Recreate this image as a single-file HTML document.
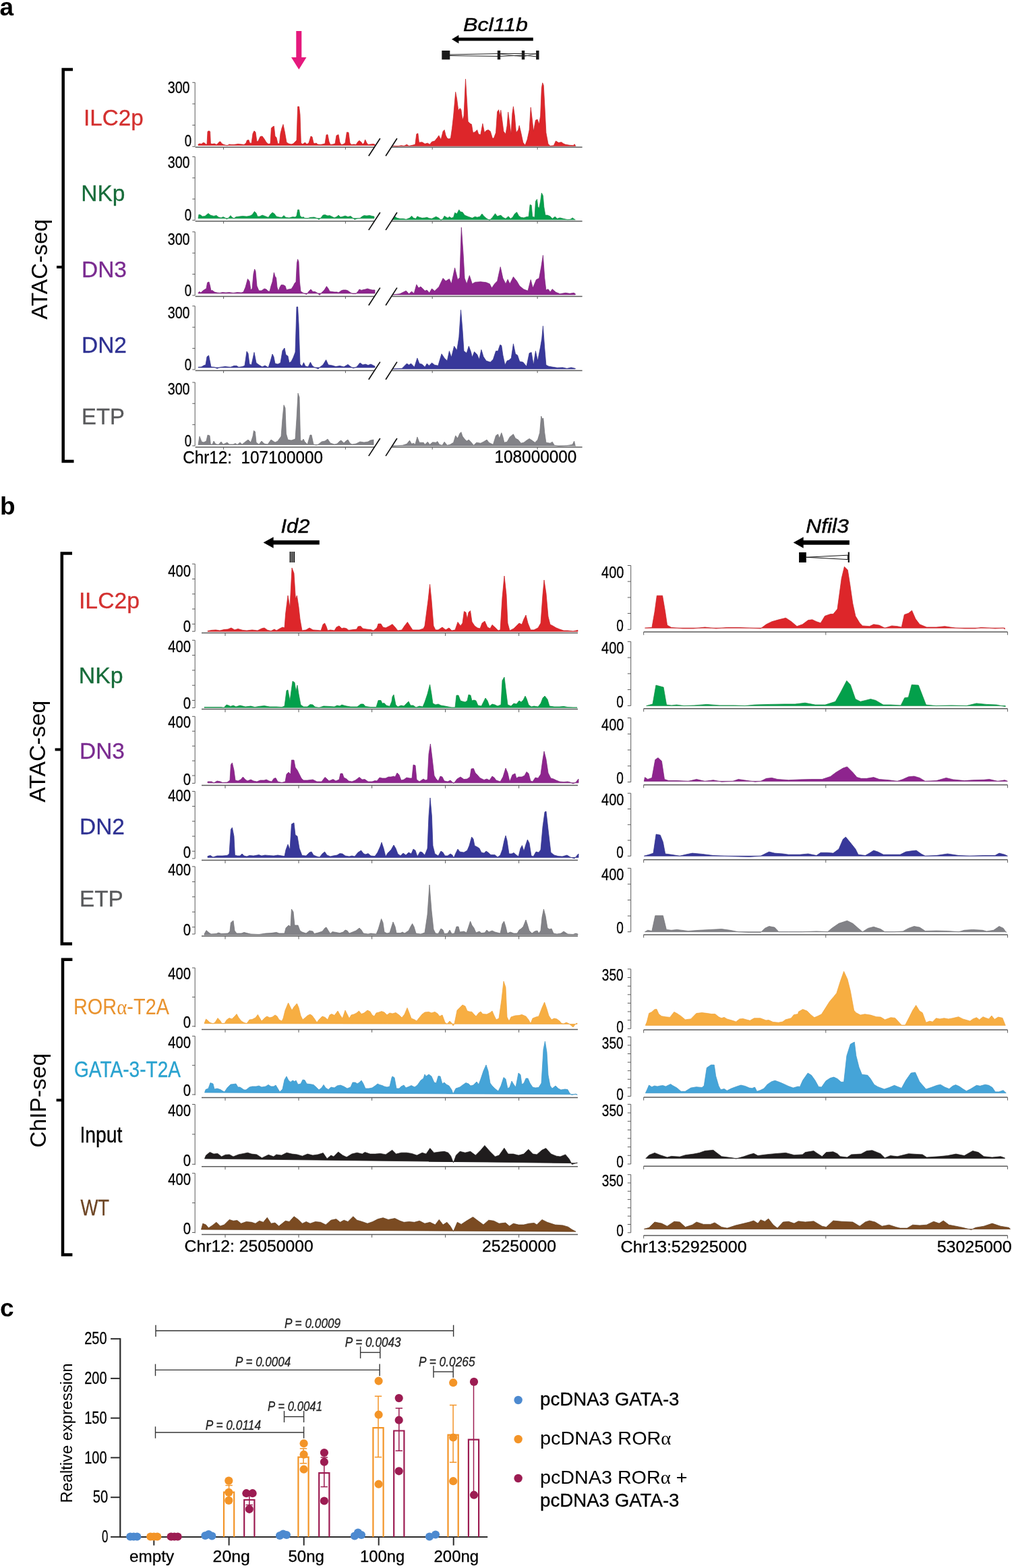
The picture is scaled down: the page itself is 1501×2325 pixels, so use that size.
<!DOCTYPE html>
<html><head><meta charset="utf-8"><title>Figure</title>
<style>html,body{margin:0;padding:0;background:#fff;overflow:hidden;width:1501px;height:2325px;}svg{display:block;}</style>
</head><body>
<svg width="1501" height="2325" viewBox="0 0 1501 2325" font-family="'Liberation Sans', Arial, Helvetica, sans-serif">
<rect width="1501" height="2325" fill="#fff"/>
<text x="-0.5" y="22.6" font-size="37" font-weight="bold">a</text>
<polygon points="439.3,46 447.3,46 447.3,85 454.5,85 443.3,103 432,85 439.3,85" fill="#e5197d"/>
<text x="687" y="45.6" font-size="28.5" font-style="italic" textLength="96" lengthAdjust="spacingAndGlyphs" stroke="#000" stroke-width="0.45">Bcl11b</text>
<line x1="790.8" y1="58.2" x2="679" y2="58.2" stroke="#000" stroke-width="4.8"/>
<polygon points="670,58.2 680.4,52 680.4,64.4" fill="#000"/>
<rect x="655.3" y="75" width="12" height="13.3" fill="#1a1a1a"/>
<rect x="737.8" y="75" width="4.4" height="13.3" fill="#1a1a1a"/>
<rect x="773.8" y="75" width="4.4" height="13.3" fill="#1a1a1a"/>
<rect x="795.1" y="75" width="4.4" height="13.3" fill="#1a1a1a"/>
<polyline points="667,81 740,79.5 776,79.5 797,80" fill="none" stroke="#222" stroke-width="1.2"/>
<polyline points="667,82.5 740,83.5 776,82 797,84" fill="none" stroke="#222" stroke-width="1.2"/>
<polyline points="741,80 776,84 797,79" fill="none" stroke="#333" stroke-width="0.8"/>
<path d="M108,103 H93.7 V684 H109.5" fill="none" stroke="#000" stroke-width="4.5"/>
<line x1="84" y1="396" x2="93" y2="396" stroke="#000" stroke-width="4"/>
<text x="69.8" y="399.4" font-size="32.5" text-anchor="middle" textLength="148.7" lengthAdjust="spacingAndGlyphs" transform="rotate(-90 69.8 399.4)">ATAC-seq</text>
<text x="124" y="186" font-size="32.5" fill="#d3302f" textLength="88.7" lengthAdjust="spacingAndGlyphs" stroke="#d3302f" stroke-width="0.3">ILC2p</text>
<line x1="289.2" y1="122.3" x2="289.2" y2="217.3" stroke="#5a5a5a" stroke-width="1"/>
<line x1="285.3" y1="122.3" x2="289.2" y2="122.3" stroke="#5a5a5a" stroke-width="1"/>
<line x1="285.3" y1="154" x2="289.2" y2="154" stroke="#5a5a5a" stroke-width="1"/>
<line x1="285.3" y1="185.6" x2="289.2" y2="185.6" stroke="#5a5a5a" stroke-width="1"/>
<line x1="285.3" y1="217.3" x2="289.2" y2="217.3" stroke="#5a5a5a" stroke-width="1"/>
<text x="281.6" y="137.9" font-size="24.6" text-anchor="end" textLength="32.9" lengthAdjust="spacingAndGlyphs" stroke="#000" stroke-width="0.3">300</text>
<text x="284.2" y="217.3" font-size="24.6" text-anchor="end" textLength="10.4" lengthAdjust="spacingAndGlyphs" stroke="#000" stroke-width="0.3">0</text>
<path d="M294,215.5 L294,214 L296,213 L299,213.6 L301,211.6 L303.6,212 L305,214 L307,214 L308,195 L310,194 L311.6,195 L312.4,213 L315,213.6 L318,213 L321,214.4 L323,213 L325,210.4 L327,210 L329,213 L332,214.4 L337,216 L340,214 L343,214.4 L347,214.4 L353,213.6 L358,214 L362,214.4 L365,212 L366.4,208 L369,207.6 L370.4,212 L373,212.4 L375,198 L377,194 L379,196 L381,210 L383,209 L386,202.4 L389,202 L392,206 L395,211 L398,213.6 L401,213 L402.4,190 L404.4,188 L406.4,187 L408,202 L410,204 L412,213 L414.4,213 L416,198 L418,190 L420,184.4 L422.4,196 L425,211 L428,213 L432,214 L435,213 L438,210 L440,208 L441.6,158 L443.6,158 L445,170 L446.4,212 L449,214 L451,212 L453,211.6 L455,214 L458,212 L461,202 L463,203 L465,212 L467,213 L469,212 L471,214 L475,214.4 L478,214 L482,213 L484,200 L486,199.6 L488,210 L490,214.4 L494,214 L497,213 L499,201 L502,199.6 L504,211 L506,214.4 L509,214 L512,212 L514.4,196 L517,196.4 L519,212 L521,214.4 L525,214 L528,214.4 L531,210 L533,208.4 L536,211 L538,214 L540,212 L541.6,207 L544,212 L546,214.4 L549,214 L553,213.6 L556,214 L556,215.5 Z" fill="#dd262a" stroke="#c41e24" stroke-width="0.7" stroke-linejoin="round"/>
<path d="M582.7,216.6 L582.7,216.4 L588.9,217 L595.1,215.7 L599.2,216.4 L603.4,214.3 L606.5,216.4 L611.6,215.3 L615.8,214.3 L617.8,198.8 L619.9,197.8 L621.5,211.2 L626.1,210.8 L630.2,213.3 L634.3,212.2 L637.4,214.3 L640.5,210.2 L644.7,209.1 L648.8,204 L650.9,200.9 L654,207.1 L657.1,194.7 L659.1,192.6 L661.2,200.9 L663.3,205 L665.7,206 L668.4,205 L670.5,190.5 L672.6,172 L675.7,136.4 L677.7,147.2 L679.8,163.7 L682.3,160.6 L683.9,162.7 L686,178.2 L688,172 L690.5,117.2 L692.6,151.3 L694.2,180.2 L697.3,183.3 L699.4,184.3 L701.5,196.7 L704.6,195.7 L707.7,192.6 L709.7,198.8 L712.8,199.8 L715.9,183.3 L718.6,196.7 L721.1,193.6 L724.2,192.6 L727.3,194.7 L730.4,205 L732.4,205 L735.5,196.7 L737.6,165.8 L739.7,162.7 L741.3,172 L742.8,163.3 L744.8,178.2 L746.9,194.7 L750,198.8 L752.1,186.4 L753.7,166.2 L755.8,182.3 L757.9,198.8 L759.9,167.8 L761.4,157.9 L763.4,172 L765.5,196.7 L768.6,192.6 L770.2,186 L772.7,196.7 L775.8,211.2 L778.9,215.3 L782,207.1 L785.1,192.6 L787.2,159.2 L789.2,176.1 L791.3,194.7 L794.4,178.2 L797.1,177.1 L799.6,184.3 L801.6,172 L803.3,130.7 L804.7,122.8 L806.2,126.5 L807.8,155.4 L809.9,196.7 L813,213.3 L816.1,216.4 L821.3,215.7 L824.4,209.1 L828.5,211.6 L832.6,210.8 L835.7,212.9 L838.8,214.3 L845,215.3 L850.2,215.7 L852.2,213.7 L853.7,216.4 L853.7,216.6 Z" fill="#dd262a" stroke="#c41e24" stroke-width="0.7" stroke-linejoin="round"/>
<line x1="289.6" y1="218.2" x2="555.6" y2="218.2" stroke="#5a5a5a" stroke-width="1.5"/>
<line x1="581.2" y1="218.2" x2="863.6" y2="218.2" stroke="#5a5a5a" stroke-width="1.5"/>
<line x1="331.6" y1="218.2" x2="331.6" y2="221.7" stroke="#5a5a5a" stroke-width="1"/>
<line x1="512.4" y1="218.2" x2="512.4" y2="221.7" stroke="#5a5a5a" stroke-width="1"/>
<line x1="641.2" y1="218.2" x2="641.2" y2="221.7" stroke="#5a5a5a" stroke-width="1"/>
<line x1="797.1" y1="218.2" x2="797.1" y2="221.7" stroke="#5a5a5a" stroke-width="1"/>
<line x1="546.8" y1="231.3" x2="563.8" y2="205.2" stroke="#111" stroke-width="1.7"/>
<line x1="572.1" y1="231.3" x2="588.9" y2="205.2" stroke="#111" stroke-width="1.7"/>
<text x="120.2" y="297.6" font-size="32.5" fill="#176c3a" textLength="65.2" lengthAdjust="spacingAndGlyphs" stroke="#176c3a" stroke-width="0.3">NKp</text>
<line x1="289.2" y1="232.4" x2="289.2" y2="326.5" stroke="#5a5a5a" stroke-width="1"/>
<line x1="285.3" y1="232.4" x2="289.2" y2="232.4" stroke="#5a5a5a" stroke-width="1"/>
<line x1="285.3" y1="263.8" x2="289.2" y2="263.8" stroke="#5a5a5a" stroke-width="1"/>
<line x1="285.3" y1="295.1" x2="289.2" y2="295.1" stroke="#5a5a5a" stroke-width="1"/>
<line x1="285.3" y1="326.5" x2="289.2" y2="326.5" stroke="#5a5a5a" stroke-width="1"/>
<text x="281.6" y="249.3" font-size="24.6" text-anchor="end" textLength="32.9" lengthAdjust="spacingAndGlyphs" stroke="#000" stroke-width="0.3">300</text>
<text x="284.2" y="326.5" font-size="24.6" text-anchor="end" textLength="10.4" lengthAdjust="spacingAndGlyphs" stroke="#000" stroke-width="0.3">0</text>
<path d="M294,323.8 L294,323.6 L295,318 L298,319 L300,321 L304,320.4 L307,318 L309,316.4 L312,319 L317,320.4 L321,319.4 L324,322 L328,323 L331,321.6 L334,323 L336.4,325 L339,323 L342,319.6 L344,322 L347,324 L350,321.6 L355,321 L360,320.4 L366,321 L371,320 L374,318.4 L377.4,313.6 L380,316 L382,321 L385,321 L389,319 L393,320.4 L398,322.4 L401,318 L404,315 L407,317 L410,321 L414,322 L418,322.4 L421,319.6 L424,322.4 L429,323 L434,321.6 L438,322 L440,320 L441.6,311 L443.6,311 L445,320 L448,322.4 L450,321.6 L452,323.6 L456,324 L460,322.4 L466,322 L470,323.6 L473,325.6 L476,323 L479,319 L482,318.4 L486,320 L489,319.6 L492,321 L496,323 L500,321 L502,319 L505,322 L509,321 L512,320 L516,321.6 L520,320.4 L523,323 L526,325.6 L530,324 L534,323.6 L537,321 L540,319.6 L544,320 L548,319.4 L552,320.4 L555,321 L555,323.8 Z" fill="#03a04b" stroke="#128a43" stroke-width="0.7" stroke-linejoin="round"/>
<path d="M582.7,325.8 L582.7,325.7 L585.8,321.2 L588.9,323.3 L593,324.3 L598.2,324.3 L602.3,325.3 L607.5,323.3 L610.6,320.2 L613.3,323.3 L616.8,324.3 L618.9,320.8 L622,322.2 L626.1,323.3 L630.2,322.9 L633.3,322.2 L636.4,323.7 L640.5,324.3 L646.7,321.2 L650.9,323.3 L654,326.4 L657.1,324.3 L659.1,320.2 L662.2,322.2 L664.3,323.3 L666.4,321.2 L669.5,323.3 L672.6,322.2 L674.6,315.4 L677.7,317.1 L680.8,310.9 L682.9,314 L686,314.6 L689.1,319.1 L694.2,321.2 L700.4,323.3 L704.6,321.2 L707.7,322.2 L711.8,321.2 L714.9,317.1 L718,320.8 L722.1,324.3 L726.3,326.4 L730.4,322.2 L734.5,316.7 L737.6,320.8 L742.8,319.1 L745.9,322.2 L750,324.3 L754.1,320.8 L757.2,324.3 L760.3,322.2 L763.4,317.1 L766.5,314.6 L769.6,320.2 L772.7,322.2 L776.9,322.9 L781,321.6 L784.1,321.2 L786.1,303.6 L788.2,304.3 L789.7,321.2 L793,322.2 L794.4,298.5 L796.5,295.4 L797.9,306.7 L799.6,308.8 L801.6,298.5 L803.3,286.1 L805.4,290.2 L806.8,306.7 L808.9,319.1 L812,319.1 L816.1,320.8 L819.2,324.3 L823.3,321.2 L826.4,324.3 L830.5,322.9 L835.7,324.3 L841.9,325.7 L846,325.3 L849.1,322.9 L852.2,325.3 L853.3,325.7 L853.3,325.8 Z" fill="#03a04b" stroke="#128a43" stroke-width="0.7" stroke-linejoin="round"/>
<line x1="289.6" y1="328" x2="555.6" y2="328" stroke="#5a5a5a" stroke-width="1.5"/>
<line x1="581.2" y1="328" x2="863.6" y2="328" stroke="#5a5a5a" stroke-width="1.5"/>
<line x1="331.6" y1="328" x2="331.6" y2="331.5" stroke="#5a5a5a" stroke-width="1"/>
<line x1="512.4" y1="328" x2="512.4" y2="331.5" stroke="#5a5a5a" stroke-width="1"/>
<line x1="641.2" y1="328" x2="641.2" y2="331.5" stroke="#5a5a5a" stroke-width="1"/>
<line x1="797.1" y1="328" x2="797.1" y2="331.5" stroke="#5a5a5a" stroke-width="1"/>
<line x1="546.8" y1="341.1" x2="563.8" y2="315" stroke="#111" stroke-width="1.7"/>
<line x1="572.1" y1="341.1" x2="588.9" y2="315" stroke="#111" stroke-width="1.7"/>
<text x="121" y="411" font-size="32.5" fill="#7a2b90" textLength="67" lengthAdjust="spacingAndGlyphs" stroke="#7a2b90" stroke-width="0.3">DN3</text>
<line x1="289.2" y1="343.8" x2="289.2" y2="438" stroke="#5a5a5a" stroke-width="1"/>
<line x1="285.3" y1="343.8" x2="289.2" y2="343.8" stroke="#5a5a5a" stroke-width="1"/>
<line x1="285.3" y1="375.2" x2="289.2" y2="375.2" stroke="#5a5a5a" stroke-width="1"/>
<line x1="285.3" y1="406.6" x2="289.2" y2="406.6" stroke="#5a5a5a" stroke-width="1"/>
<line x1="285.3" y1="438" x2="289.2" y2="438" stroke="#5a5a5a" stroke-width="1"/>
<text x="281.6" y="362.6" font-size="24.6" text-anchor="end" textLength="32.9" lengthAdjust="spacingAndGlyphs" stroke="#000" stroke-width="0.3">300</text>
<text x="284.2" y="439" font-size="24.6" text-anchor="end" textLength="10.4" lengthAdjust="spacingAndGlyphs" stroke="#000" stroke-width="0.3">0</text>
<path d="M294,435 L294,434.4 L295.6,432.4 L298,434 L301,431 L304,429 L306,428 L307.6,419 L310,418 L311.6,424 L313,431 L315,430.6 L318,433 L322,434 L326,434.4 L330,433.6 L335,434 L340,433.6 L346,434.4 L352,433.6 L358,434 L361,433 L364,426 L367.4,413.6 L370,417 L372,430 L374,428 L376,406 L377.6,399 L379,402 L381,424 L384,431 L388,431 L392,428 L395,429 L398,432 L400,432 L402,424 L404,418 L406.4,404 L408,410 L409.6,412 L411,426 L413,431.6 L415,426 L417,422.4 L420,422.4 L423,424 L425,430 L428,429 L432,428.4 L435,424 L437,420 L439,418 L440.4,390 L441.6,384.4 L443,388 L444.4,418 L446,432 L449,434 L452,435.6 L455,436.4 L458,432 L461,429 L464,432.4 L467,432.4 L470,434 L472,435.6 L474,437.6 L477,434 L481,430 L484.4,424.6 L487,428 L489,432 L492,432.4 L496,433 L500,433 L502,434 L506,431 L509,430 L513,430 L516,431 L520,434 L523,435.6 L528,435.6 L531,432 L533,429 L536,430.4 L539,429.6 L542,429 L545,428 L548,429 L552,430 L556,430 L556,435 Z" fill="#8e248e" stroke="#741e74" stroke-width="0.7" stroke-linejoin="round"/>
<path d="M582.7,437 L582.7,437 L593,435.7 L602.3,431.2 L606.5,435.7 L610.6,432.2 L614.1,435.3 L617.8,421.9 L620.9,427.1 L624,425 L630.2,431.2 L633.3,430.2 L636.8,434.3 L640.5,428.1 L644.7,431.6 L650.9,425.4 L657.1,412.6 L661.2,416.7 L666.4,413.6 L669.5,420.9 L674.6,397.1 L678.8,414.7 L681.9,411.6 L684.3,337.2 L687,375.4 L689.1,412.6 L692.2,420.9 L696.3,408.5 L700.4,420.9 L704.6,418.4 L712.8,417.8 L721.1,418.8 L726.3,420.9 L729.4,427.1 L733.5,420.9 L737.6,416.7 L742.2,395.7 L745.9,412.6 L750,420.9 L753.1,414.3 L756.2,420.9 L761.4,410.5 L766.5,416.7 L770.7,424 L776.9,429.1 L783,431.2 L787.2,414.7 L790.3,427.1 L795.4,414.7 L799.6,412.6 L802.7,396.1 L805.4,378.5 L807.8,412.6 L809.9,430.2 L813,428.7 L816.1,432.9 L819.2,428.7 L824.4,433.3 L830.5,435.7 L838.8,434.3 L845,435.3 L851.2,434.3 L853.3,435.7 L853.3,437 Z" fill="#8e248e" stroke="#741e74" stroke-width="0.7" stroke-linejoin="round"/>
<line x1="289.6" y1="439.6" x2="555.6" y2="439.6" stroke="#5a5a5a" stroke-width="1.5"/>
<line x1="581.2" y1="439.6" x2="863.6" y2="439.6" stroke="#5a5a5a" stroke-width="1.5"/>
<line x1="331.6" y1="439.6" x2="331.6" y2="443.1" stroke="#5a5a5a" stroke-width="1"/>
<line x1="512.4" y1="439.6" x2="512.4" y2="443.1" stroke="#5a5a5a" stroke-width="1"/>
<line x1="641.2" y1="439.6" x2="641.2" y2="443.1" stroke="#5a5a5a" stroke-width="1"/>
<line x1="797.1" y1="439.6" x2="797.1" y2="443.1" stroke="#5a5a5a" stroke-width="1"/>
<line x1="546.8" y1="452.7" x2="563.8" y2="426.6" stroke="#111" stroke-width="1.7"/>
<line x1="572.1" y1="452.7" x2="588.9" y2="426.6" stroke="#111" stroke-width="1.7"/>
<text x="121" y="523" font-size="32.5" fill="#2e3192" textLength="67" lengthAdjust="spacingAndGlyphs" stroke="#2e3192" stroke-width="0.3">DN2</text>
<line x1="289.2" y1="453.8" x2="289.2" y2="548" stroke="#5a5a5a" stroke-width="1"/>
<line x1="285.3" y1="453.8" x2="289.2" y2="453.8" stroke="#5a5a5a" stroke-width="1"/>
<line x1="285.3" y1="485.2" x2="289.2" y2="485.2" stroke="#5a5a5a" stroke-width="1"/>
<line x1="285.3" y1="516.6" x2="289.2" y2="516.6" stroke="#5a5a5a" stroke-width="1"/>
<line x1="285.3" y1="548" x2="289.2" y2="548" stroke="#5a5a5a" stroke-width="1"/>
<text x="281.6" y="471.6" font-size="24.6" text-anchor="end" textLength="32.9" lengthAdjust="spacingAndGlyphs" stroke="#000" stroke-width="0.3">300</text>
<text x="284.2" y="549" font-size="24.6" text-anchor="end" textLength="10.4" lengthAdjust="spacingAndGlyphs" stroke="#000" stroke-width="0.3">0</text>
<path d="M294,545 L294,544.4 L299,544 L302,542 L305,541 L307,529 L309.6,527 L311,534 L313,544 L318,544.4 L322,546.4 L327,544.4 L334,543.6 L342,544.4 L347,542.4 L351,542.4 L354,544.4 L360,543.6 L363,542 L366,521 L368,524 L370,540 L373,541 L377,522.4 L380,538 L384,541 L389,544 L393,542 L398,545 L401,536 L404,525 L406,529 L408,539 L412,540 L416,538 L419,520 L422,516 L424,526 L427,528 L429,538 L432,536 L435,530 L438,522 L440,455 L441.6,455 L443,480 L445,540 L448,543 L450.4,537.6 L453,543 L457,544 L460.4,537 L463,542 L466,544.4 L472,547 L475,544 L479,541 L483.6,533.6 L487,541 L493,542 L498,543.6 L504,542.4 L510,544 L516,540.4 L520,543.6 L524,546 L529,544 L534,538 L538,541 L542,540 L546,541.6 L550,540 L556,543 L556,545 Z" fill="#38389a" stroke="#2d2d85" stroke-width="0.7" stroke-linejoin="round"/>
<path d="M582.7,547 L582.7,547 L596.1,546.4 L599.2,543.3 L603.4,539.1 L606.5,541.2 L609.6,539.1 L612.7,542.2 L614.7,544.3 L618.9,530.9 L622,539.1 L626.1,540.2 L630.2,544.3 L633.3,539.1 L636.4,542.2 L640.5,538.1 L644.7,541.2 L649.8,542.2 L655,524.7 L659.1,530.9 L663.3,535 L666.4,520.5 L669.5,529.8 L673.6,513.3 L677.7,519.5 L680.8,499.9 L683.5,459.6 L686,489.6 L688,520.5 L692.2,523.6 L695.3,513.3 L698.4,521.6 L700.4,529.8 L703.5,521.6 L707.7,525.7 L710.8,532.9 L713.9,518.5 L717,528.8 L721.1,535 L727.3,537.1 L731.4,532.9 L735.5,520.5 L738.6,520.5 L741.7,511.3 L743.8,512.3 L745.9,526.7 L749,541.2 L752.1,535 L755.2,534 L758.3,530.9 L761.4,509.8 L764.5,524.7 L767.6,526.7 L770.7,536 L775.8,537.1 L781,543.3 L785.1,523.6 L788.2,522.6 L791.3,541.2 L794.4,520.5 L797.5,535 L801.6,514.3 L803.7,502 L805.4,483.4 L807.8,516.4 L809.9,541.2 L814,543.3 L820.2,544.3 L826.4,545.3 L834.7,544.9 L840.9,546.4 L847.1,544.9 L853.3,546.4 L853.3,547 Z" fill="#38389a" stroke="#2d2d85" stroke-width="0.7" stroke-linejoin="round"/>
<line x1="289.6" y1="549.6" x2="555.6" y2="549.6" stroke="#5a5a5a" stroke-width="1.5"/>
<line x1="581.2" y1="549.6" x2="863.6" y2="549.6" stroke="#5a5a5a" stroke-width="1.5"/>
<line x1="331.6" y1="549.6" x2="331.6" y2="553.1" stroke="#5a5a5a" stroke-width="1"/>
<line x1="512.4" y1="549.6" x2="512.4" y2="553.1" stroke="#5a5a5a" stroke-width="1"/>
<line x1="641.2" y1="549.6" x2="641.2" y2="553.1" stroke="#5a5a5a" stroke-width="1"/>
<line x1="797.1" y1="549.6" x2="797.1" y2="553.1" stroke="#5a5a5a" stroke-width="1"/>
<line x1="546.8" y1="562.7" x2="563.8" y2="536.6" stroke="#111" stroke-width="1.7"/>
<line x1="572.1" y1="562.7" x2="588.9" y2="536.6" stroke="#111" stroke-width="1.7"/>
<text x="121" y="629" font-size="32.5" fill="#58595b" textLength="63.8" lengthAdjust="spacingAndGlyphs" stroke="#58595b" stroke-width="0.3">ETP</text>
<line x1="289.2" y1="567" x2="289.2" y2="661" stroke="#5a5a5a" stroke-width="1"/>
<line x1="285.3" y1="567" x2="289.2" y2="567" stroke="#5a5a5a" stroke-width="1"/>
<line x1="285.3" y1="598.3" x2="289.2" y2="598.3" stroke="#5a5a5a" stroke-width="1"/>
<line x1="285.3" y1="629.7" x2="289.2" y2="629.7" stroke="#5a5a5a" stroke-width="1"/>
<line x1="285.3" y1="661" x2="289.2" y2="661" stroke="#5a5a5a" stroke-width="1"/>
<text x="281.6" y="584.6" font-size="24.6" text-anchor="end" textLength="32.9" lengthAdjust="spacingAndGlyphs" stroke="#000" stroke-width="0.3">300</text>
<text x="284.2" y="662" font-size="24.6" text-anchor="end" textLength="10.4" lengthAdjust="spacingAndGlyphs" stroke="#000" stroke-width="0.3">0</text>
<path d="M294,659.4 L294,659.4 L296,647 L299,655 L302,656 L306,654 L308,645 L311,646 L312.4,659 L315,659 L317,654 L320,658.6 L324,659.4 L328,655 L331,659 L337,656 L340,659 L346,659 L349,657.4 L352,659.4 L356,656 L359,659 L364,655 L368,652 L372,656 L375,647 L376.4,638.6 L378.4,640 L380,656 L384,659 L388,654 L392,658 L397,659 L402,652 L405,654 L408,656 L412,654 L414,651 L417,647 L419,621 L421,600.6 L423,605 L424.4,643 L427,652 L432,653 L438,651 L440,621 L442,583 L444,589 L445.6,653 L448,654 L450,651 L452,655 L456,659 L460,645 L462,645 L465,659 L469,660 L472,659 L477,655 L482,654 L486,651 L490,657 L496,659 L500,658 L504,654 L506,653 L510,657 L513,654 L516,652 L519,657 L522,659 L528,658 L534,655 L540,656 L546,655 L549,653 L554,652 L554,659.4 Z" fill="#828287" stroke="#6e6e73" stroke-width="0.7" stroke-linejoin="round"/>
<path d="M582.7,661 L582.7,661.4 L597.2,660.3 L603.4,658.3 L607.5,653.1 L610.6,658.3 L613.7,657.2 L615.8,659.3 L618.9,647.9 L622,656.2 L628.2,656.2 L630.2,659.3 L634.3,655.2 L637.4,659.3 L641.6,655.8 L646.7,656.2 L648.8,654.5 L651.9,659.3 L656,660.3 L659.1,655.2 L663.3,660.3 L667.4,659.3 L672.6,656.2 L675.7,645.9 L678.8,650 L681.9,642.8 L683.9,640.7 L686,646.9 L689.1,651 L692.2,654.1 L695.3,652.1 L698.4,655.2 L702.5,660.3 L706.6,656.2 L712.8,657.2 L717,655.2 L722.1,652.1 L725.2,656.2 L731.4,659.3 L735.5,645.9 L738.6,643.8 L740.7,650 L743.8,641.7 L745.9,647.9 L747.9,656.2 L752.1,655.2 L756.2,647.9 L761.4,643.8 L764.5,650 L768.6,652.1 L772.7,657.2 L776.9,656.2 L781,653.1 L785.1,650.4 L789.2,653.1 L793.4,656.2 L797.5,652.1 L800.6,641.7 L802.7,617 L804.1,621.1 L805.8,620.1 L807.8,641.7 L809.9,656.2 L816.1,657.2 L819.2,655.2 L822.3,660.3 L828.5,661.4 L840.9,660.7 L849.1,659.3 L851.6,654.1 L853.3,661.4 L853.3,661 Z" fill="#828287" stroke="#6e6e73" stroke-width="0.7" stroke-linejoin="round"/>
<line x1="289.6" y1="663" x2="555.6" y2="663" stroke="#5a5a5a" stroke-width="1.5"/>
<line x1="581.2" y1="663" x2="863.6" y2="663" stroke="#5a5a5a" stroke-width="1.5"/>
<line x1="331.6" y1="663" x2="331.6" y2="666.5" stroke="#5a5a5a" stroke-width="1"/>
<line x1="512.4" y1="663" x2="512.4" y2="666.5" stroke="#5a5a5a" stroke-width="1"/>
<line x1="641.2" y1="663" x2="641.2" y2="666.5" stroke="#5a5a5a" stroke-width="1"/>
<line x1="797.1" y1="663" x2="797.1" y2="666.5" stroke="#5a5a5a" stroke-width="1"/>
<line x1="546.8" y1="676.1" x2="563.8" y2="650" stroke="#111" stroke-width="1.7"/>
<line x1="572.1" y1="676.1" x2="588.9" y2="650" stroke="#111" stroke-width="1.7"/>
<text x="271.2" y="686.9" font-size="25" textLength="207.9" lengthAdjust="spacingAndGlyphs" stroke="#000" stroke-width="0.3">Chr12:&#160; 107100000</text>
<text x="733.5" y="686.1" font-size="25" textLength="121.8" lengthAdjust="spacingAndGlyphs" stroke="#000" stroke-width="0.3">108000000</text>
<text x="0" y="762.6" font-size="37" font-weight="bold">b</text>
<text x="416.5" y="789.7" font-size="28.6" font-style="italic" textLength="43" lengthAdjust="spacingAndGlyphs" stroke="#000" stroke-width="0.45">Id2</text>
<line x1="473.8" y1="804.4" x2="404" y2="804.4" stroke="#000" stroke-width="6.4"/>
<polygon points="390.6,804.4 405.6,796.2 405.6,812.7" fill="#000"/>
<rect x="429.6" y="818" width="1.9" height="16" fill="#111"/>
<rect x="432.4" y="818" width="1.9" height="16" fill="#111"/>
<rect x="435.2" y="818" width="1.9" height="16" fill="#111"/>
<text x="1195.3" y="789.7" font-size="28.6" font-style="italic" textLength="63.5" lengthAdjust="spacingAndGlyphs" stroke="#000" stroke-width="0.45">Nfil3</text>
<line x1="1259.9" y1="804.5" x2="1190" y2="804.5" stroke="#000" stroke-width="6.3"/>
<polygon points="1176.7,804.5 1191.7,796.3 1191.7,812.7" fill="#000"/>
<rect x="1185.1" y="819" width="10.7" height="15" fill="#000"/>
<polyline points="1195.8,826.3 1257.5,823.2 1257.5,829.6 1195.8,826.3" fill="none" stroke="#111" stroke-width="1"/>
<line x1="1258.8" y1="818.6" x2="1258.8" y2="834" stroke="#111" stroke-width="2.2"/>
<path d="M107,820.5 H91.8 V1399.5 H107" fill="none" stroke="#000" stroke-width="4.5"/>
<line x1="81.6" y1="1111.4" x2="91" y2="1111.4" stroke="#000" stroke-width="4"/>
<text x="67.5" y="1114.2" font-size="32.5" text-anchor="middle" textLength="151" lengthAdjust="spacingAndGlyphs" transform="rotate(-90 67.5 1114.2)">ATAC-seq</text>
<path d="M107.4,1422.8 H93 V1860.5 H107.4" fill="none" stroke="#000" stroke-width="4.5"/>
<line x1="83.6" y1="1631.3" x2="92" y2="1631.3" stroke="#000" stroke-width="4"/>
<text x="68.5" y="1631.8" font-size="32.5" text-anchor="middle" textLength="139.8" lengthAdjust="spacingAndGlyphs" transform="rotate(-90 68.5 1631.8)">ChIP-seq</text>
<text x="117" y="901.7" font-size="32.5" fill="#d3302f" textLength="90" lengthAdjust="spacingAndGlyphs" stroke="#d3302f" stroke-width="0.3">ILC2p</text>
<line x1="289.2" y1="836.2" x2="289.2" y2="936.2" stroke="#5a5a5a" stroke-width="1"/>
<line x1="285" y1="836.2" x2="289.2" y2="836.2" stroke="#5a5a5a" stroke-width="1"/>
<line x1="285" y1="858.5" x2="289.2" y2="858.5" stroke="#5a5a5a" stroke-width="1"/>
<line x1="285" y1="880.8" x2="289.2" y2="880.8" stroke="#5a5a5a" stroke-width="1"/>
<line x1="285" y1="903" x2="289.2" y2="903" stroke="#5a5a5a" stroke-width="1"/>
<line x1="285" y1="925.3" x2="289.2" y2="925.3" stroke="#5a5a5a" stroke-width="1"/>
<line x1="285" y1="936.2" x2="289.2" y2="936.2" stroke="#5a5a5a" stroke-width="1"/>
<text x="283" y="854.5" font-size="24.8" text-anchor="end" textLength="33.8" lengthAdjust="spacingAndGlyphs" stroke="#000" stroke-width="0.3">400</text>
<text x="283" y="936.7" font-size="24.8" text-anchor="end" textLength="11.3" lengthAdjust="spacingAndGlyphs" stroke="#000" stroke-width="0.3">0</text>
<path d="M308,936.3 L308,935.6 L314,934.4 L320,934 L326,935 L332,933.6 L338,933 L343,931 L348,934 L353,932.4 L360,934.4 L366,935 L374,934 L382,935 L388,932 L392,931 L397,934.4 L402,935.6 L407,933 L410,935 L415,932 L419,930 L422,931 L423.6,910 L427,883 L430,901 L433,842 L436,850 L438.4,888 L440.4,883 L443,900 L445,918 L448,935 L454,934 L459,931 L464,934 L470,934.4 L476,935 L479,926 L481.6,924 L484,929 L486,935 L490,934 L496,935 L499,930 L503,928 L507,932 L510,931 L514,932 L517,934.4 L524,933.6 L529,933 L531,929 L535,928.4 L538,932 L544,933 L550,933.6 L554,935 L559,931 L561,925 L565,925 L568,930 L572,931 L578,928 L582,925.6 L586,930 L590,935 L596,934 L600,928 L604.4,922.4 L608,928 L612,934 L622,934 L628,932 L630,928 L635,890 L637.6,866.4 L640,890 L643,928 L646,934 L650,934 L656,930 L661,934 L666,931 L670,935 L675,934 L679,922.4 L683,928 L686,924 L688.4,906.6 L691,908 L693,918 L695,908 L697.6,905.6 L700,922 L704,928 L708,931 L712,932 L715,924 L719,921 L723,930 L727,932 L730,926.4 L734,930 L739,935 L742,934 L745,886 L748,854 L751,882 L753,924 L756,935 L762,932 L770,924 L774,926 L777,918 L780,912 L783,924 L787,934 L792,934 L798,931 L802,924 L805,882 L807,860 L810,880 L813,914 L816,926 L820,928 L825,931 L830,933 L836,935 L842,935 L850,936 L857,934.4 L857,936.3 Z" fill="#dd262a" stroke="#c41e24" stroke-width="0.7" stroke-linejoin="round"/>
<line x1="299" y1="938.4" x2="857" y2="938.4" stroke="#5a5a5a" stroke-width="1.5"/>
<line x1="334" y1="938.4" x2="334" y2="942.9" stroke="#5a5a5a" stroke-width="1"/>
<line x1="443" y1="938.4" x2="443" y2="942.9" stroke="#5a5a5a" stroke-width="1"/>
<line x1="551.6" y1="938.4" x2="551.6" y2="942.9" stroke="#5a5a5a" stroke-width="1"/>
<line x1="660.6" y1="938.4" x2="660.6" y2="942.9" stroke="#5a5a5a" stroke-width="1"/>
<line x1="769.6" y1="938.4" x2="769.6" y2="942.9" stroke="#5a5a5a" stroke-width="1"/>
<text x="116.8" y="1013.3" font-size="32.5" fill="#176c3a" textLength="65.9" lengthAdjust="spacingAndGlyphs" stroke="#176c3a" stroke-width="0.3">NKp</text>
<line x1="289.2" y1="949.3" x2="289.2" y2="1049.5" stroke="#5a5a5a" stroke-width="1"/>
<line x1="285" y1="949.3" x2="289.2" y2="949.3" stroke="#5a5a5a" stroke-width="1"/>
<line x1="285" y1="971.6" x2="289.2" y2="971.6" stroke="#5a5a5a" stroke-width="1"/>
<line x1="285" y1="993.9" x2="289.2" y2="993.9" stroke="#5a5a5a" stroke-width="1"/>
<line x1="285" y1="1016.2" x2="289.2" y2="1016.2" stroke="#5a5a5a" stroke-width="1"/>
<line x1="285" y1="1038.5" x2="289.2" y2="1038.5" stroke="#5a5a5a" stroke-width="1"/>
<line x1="285" y1="1049.5" x2="289.2" y2="1049.5" stroke="#5a5a5a" stroke-width="1"/>
<text x="283" y="966.8" font-size="24.8" text-anchor="end" textLength="33.8" lengthAdjust="spacingAndGlyphs" stroke="#000" stroke-width="0.3">400</text>
<text x="283" y="1050.5" font-size="24.8" text-anchor="end" textLength="11.3" lengthAdjust="spacingAndGlyphs" stroke="#000" stroke-width="0.3">0</text>
<path d="M303,1049.3 L303,1048.6 L328,1048.6 L332,1049.4 L336,1045 L339,1046 L342,1047.4 L346,1046 L350,1048 L356,1046 L364,1048 L372,1047 L378,1048.6 L384,1047.4 L392,1046.6 L400,1048 L410,1048 L418,1048.6 L422,1047 L425,1024 L427,1023 L430,1039 L434,1010 L437,1012 L439,1025 L441,1016 L443,1029 L446,1045 L450,1048 L456,1048 L460,1044.6 L464,1045 L467,1048 L473,1049.4 L480,1047 L488,1047.4 L496,1048 L500,1046 L504,1047 L507,1045 L510,1046 L514,1047 L520,1048 L530,1048 L535,1044 L539,1044 L542,1047.4 L550,1048.6 L558,1048.6 L561,1038.6 L565,1038.6 L567,1043 L570,1042.6 L573,1046 L578,1047.4 L581,1040 L582,1033 L584,1030 L587,1045 L590,1048 L595,1046 L599,1047 L603,1043 L606,1040 L609,1046 L613,1046 L617,1049 L622,1047 L627,1048 L630,1041 L634,1029 L637.6,1015 L640,1029 L642,1043 L646,1045 L650,1044 L654,1046 L660,1047 L670,1049 L675,1049 L677,1031 L680,1031 L683,1039 L686,1040 L690,1041 L693,1039 L695,1030 L698,1031 L700,1039 L703,1038 L706,1039 L709,1046 L714,1047 L718,1039 L720,1035 L723,1039 L726,1047 L730,1044 L734,1045 L738,1047 L743,1045 L745,1009 L748,1004 L750,1021 L753,1045 L758,1047 L762,1043 L766,1044 L770,1039 L773,1041 L776,1038 L779,1032 L781,1036 L784,1045 L788,1048 L792,1047 L798,1048 L802,1043 L805,1035 L808,1032 L812,1037 L815,1047 L822,1048 L830,1048 L836,1047.4 L842,1048.6 L850,1049 L856,1049 L856,1049.3 Z" fill="#03a04b" stroke="#128a43" stroke-width="0.7" stroke-linejoin="round"/>
<line x1="299" y1="1051.6" x2="857" y2="1051.6" stroke="#5a5a5a" stroke-width="1.5"/>
<line x1="334" y1="1051.6" x2="334" y2="1056.1" stroke="#5a5a5a" stroke-width="1"/>
<line x1="443" y1="1051.6" x2="443" y2="1056.1" stroke="#5a5a5a" stroke-width="1"/>
<line x1="551.6" y1="1051.6" x2="551.6" y2="1056.1" stroke="#5a5a5a" stroke-width="1"/>
<line x1="660.6" y1="1051.6" x2="660.6" y2="1056.1" stroke="#5a5a5a" stroke-width="1"/>
<line x1="769.6" y1="1051.6" x2="769.6" y2="1056.1" stroke="#5a5a5a" stroke-width="1"/>
<text x="118" y="1124.8" font-size="32.5" fill="#7a2b90" textLength="66.9" lengthAdjust="spacingAndGlyphs" stroke="#7a2b90" stroke-width="0.3">DN3</text>
<line x1="289.2" y1="1062.3" x2="289.2" y2="1161.4" stroke="#5a5a5a" stroke-width="1"/>
<line x1="285" y1="1062.3" x2="289.2" y2="1062.3" stroke="#5a5a5a" stroke-width="1"/>
<line x1="285" y1="1084.2" x2="289.2" y2="1084.2" stroke="#5a5a5a" stroke-width="1"/>
<line x1="285" y1="1106.2" x2="289.2" y2="1106.2" stroke="#5a5a5a" stroke-width="1"/>
<line x1="285" y1="1128.1" x2="289.2" y2="1128.1" stroke="#5a5a5a" stroke-width="1"/>
<line x1="285" y1="1150" x2="289.2" y2="1150" stroke="#5a5a5a" stroke-width="1"/>
<line x1="285" y1="1161.4" x2="289.2" y2="1161.4" stroke="#5a5a5a" stroke-width="1"/>
<text x="283" y="1079" font-size="24.8" text-anchor="end" textLength="33.8" lengthAdjust="spacingAndGlyphs" stroke="#000" stroke-width="0.3">400</text>
<text x="283" y="1163.5" font-size="24.8" text-anchor="end" textLength="11.3" lengthAdjust="spacingAndGlyphs" stroke="#000" stroke-width="0.3">0</text>
<path d="M308,1160.8 L308,1159 L314,1159 L317,1161 L322,1158 L327,1159 L330,1160.4 L337,1160 L341,1157 L342.4,1134 L344.4,1131 L347,1142 L349,1157 L353,1158 L357,1156 L360.4,1152 L364,1156 L367,1158 L372,1156 L376,1158 L381,1159 L386,1157 L392,1157 L395,1156 L399,1158 L403,1159 L406,1154.4 L409,1153.6 L412,1159 L418,1160.4 L423,1159 L425,1148 L428,1145 L431,1148 L432.4,1127 L436,1127 L438,1138 L441,1142 L444,1148 L447,1154 L450,1157 L456,1157 L464,1156 L470,1159 L477,1159 L482,1152.4 L485,1155 L488,1158 L494,1155.6 L498,1158 L503,1156 L505,1147 L508,1147 L510,1153 L514,1155 L517,1158 L522,1159 L527,1157 L533,1152.4 L537,1156 L541,1155.6 L546,1159 L552,1159 L556,1157.6 L559,1158 L563,1153 L567,1154 L572,1154 L576,1152 L580,1152 L584,1151 L586,1152 L589,1146 L592,1149 L595,1157 L599,1156 L603,1153 L608,1154 L611,1154 L613,1134 L616,1135 L618,1156 L622,1159 L628,1155 L631,1157 L634,1156 L636,1118 L638.4,1103 L641,1124 L644,1150 L647,1155 L650,1158 L653,1151 L656,1152 L659,1158 L664,1159 L668,1157 L673,1161.6 L678,1155 L683,1152 L688,1155.6 L693,1155 L697,1152 L699,1140 L702.4,1139.6 L705,1146 L708,1149 L712,1153.6 L718,1156.4 L722,1155 L726,1157 L730,1151 L733,1153 L736,1157 L742,1159 L746,1152 L750,1139 L753,1146 L756,1159 L760,1149 L764,1147 L766,1154 L769,1152 L774,1152 L778,1150 L781,1144.4 L784,1147 L787,1158 L790,1159 L794,1153 L798,1154 L802,1148 L805,1126 L807,1114 L810,1126 L813,1146 L817,1154 L821,1155 L825,1157 L830,1159 L836,1159.6 L842,1159 L846,1160 L850,1162 L854,1160 L858,1155 L858,1160.8 Z" fill="#8e248e" stroke="#741e74" stroke-width="0.7" stroke-linejoin="round"/>
<line x1="299" y1="1164.4" x2="857" y2="1164.4" stroke="#5a5a5a" stroke-width="1.5"/>
<line x1="334" y1="1164.4" x2="334" y2="1168.9" stroke="#5a5a5a" stroke-width="1"/>
<line x1="443" y1="1164.4" x2="443" y2="1168.9" stroke="#5a5a5a" stroke-width="1"/>
<line x1="551.6" y1="1164.4" x2="551.6" y2="1168.9" stroke="#5a5a5a" stroke-width="1"/>
<line x1="660.6" y1="1164.4" x2="660.6" y2="1168.9" stroke="#5a5a5a" stroke-width="1"/>
<line x1="769.6" y1="1164.4" x2="769.6" y2="1168.9" stroke="#5a5a5a" stroke-width="1"/>
<text x="118" y="1237.4" font-size="32.5" fill="#2e3192" textLength="66.9" lengthAdjust="spacingAndGlyphs" stroke="#2e3192" stroke-width="0.3">DN2</text>
<line x1="289.2" y1="1173.4" x2="289.2" y2="1273" stroke="#5a5a5a" stroke-width="1"/>
<line x1="285" y1="1173.4" x2="289.2" y2="1173.4" stroke="#5a5a5a" stroke-width="1"/>
<line x1="285" y1="1195.6" x2="289.2" y2="1195.6" stroke="#5a5a5a" stroke-width="1"/>
<line x1="285" y1="1217.8" x2="289.2" y2="1217.8" stroke="#5a5a5a" stroke-width="1"/>
<line x1="285" y1="1240" x2="289.2" y2="1240" stroke="#5a5a5a" stroke-width="1"/>
<line x1="285" y1="1262.2" x2="289.2" y2="1262.2" stroke="#5a5a5a" stroke-width="1"/>
<line x1="285" y1="1273" x2="289.2" y2="1273" stroke="#5a5a5a" stroke-width="1"/>
<text x="283" y="1187.9" font-size="24.8" text-anchor="end" textLength="33.8" lengthAdjust="spacingAndGlyphs" stroke="#000" stroke-width="0.3">400</text>
<text x="283" y="1272.4" font-size="24.8" text-anchor="end" textLength="11.3" lengthAdjust="spacingAndGlyphs" stroke="#000" stroke-width="0.3">0</text>
<path d="M308,1271.5 L308,1269.6 L312,1268.4 L316,1271 L322,1269 L330,1269 L337,1268.4 L340,1266 L342.4,1230 L344.4,1227 L347,1240 L348.4,1268 L352,1269 L356,1269 L359,1266 L362,1269 L366,1270 L370,1268.4 L376,1269 L384,1267.6 L388,1269 L393,1268 L398,1268.4 L406,1269 L412,1268 L418,1269 L422,1269.6 L424,1260 L427,1252 L430,1260 L432.4,1222 L436,1220 L438,1238 L441,1240 L444,1258 L448,1268.4 L454,1269 L459,1264 L462,1263 L465,1268 L470,1270 L474,1271 L478,1266 L481.6,1263 L485,1268 L490,1270 L494,1269 L500,1268 L504,1265.6 L508,1266 L512,1269 L518,1270 L522,1269 L526,1270 L531,1264 L535.6,1261 L539,1265.6 L542,1267 L546,1265.6 L550,1269 L556,1269.6 L560,1264 L564,1255 L566,1249 L569,1258 L572,1270 L575,1265 L580,1260 L584,1253 L587,1258 L590,1266 L594,1269 L598,1265 L602,1268 L606,1264 L610,1266 L613,1259 L616,1261 L619,1270 L623,1263 L626,1263.6 L630,1268 L634,1258 L636,1210 L638,1183 L640.4,1210 L642,1254 L645,1266 L650,1269 L654,1262 L657,1264 L660,1269 L664,1269 L668,1266 L671,1268 L673,1272 L676,1265 L679,1259 L682,1263 L688,1264 L693,1261 L696,1254 L699.6,1241 L702,1244 L704,1254 L708,1256 L711,1258 L714,1264 L718,1265 L721,1262 L724,1264 L728,1267.6 L734,1267.6 L738,1271 L742,1268 L745,1260 L748,1246 L750,1239 L752,1246 L755,1266 L759,1266 L762,1264.4 L766,1268 L769,1270 L772,1258 L774.4,1253.6 L777,1262 L780,1252 L782.4,1245 L785,1250 L788,1269 L791,1270 L795,1263 L799,1264 L802,1260 L805,1226 L808,1204 L810,1203 L813,1230 L817,1264 L822,1268 L828,1269.6 L834,1270 L841,1268 L846,1271 L852,1273 L858,1266 L858,1271.5 Z" fill="#38389a" stroke="#2d2d85" stroke-width="0.7" stroke-linejoin="round"/>
<line x1="299" y1="1275.6" x2="857" y2="1275.6" stroke="#5a5a5a" stroke-width="1.5"/>
<line x1="334" y1="1275.6" x2="334" y2="1280.1" stroke="#5a5a5a" stroke-width="1"/>
<line x1="443" y1="1275.6" x2="443" y2="1280.1" stroke="#5a5a5a" stroke-width="1"/>
<line x1="551.6" y1="1275.6" x2="551.6" y2="1280.1" stroke="#5a5a5a" stroke-width="1"/>
<line x1="660.6" y1="1275.6" x2="660.6" y2="1280.1" stroke="#5a5a5a" stroke-width="1"/>
<line x1="769.6" y1="1275.6" x2="769.6" y2="1280.1" stroke="#5a5a5a" stroke-width="1"/>
<text x="118" y="1343.8" font-size="32.5" fill="#58595b" textLength="64.7" lengthAdjust="spacingAndGlyphs" stroke="#58595b" stroke-width="0.3">ETP</text>
<line x1="289.2" y1="1284.9" x2="289.2" y2="1385" stroke="#5a5a5a" stroke-width="1"/>
<line x1="285" y1="1284.9" x2="289.2" y2="1284.9" stroke="#5a5a5a" stroke-width="1"/>
<line x1="285" y1="1307.4" x2="289.2" y2="1307.4" stroke="#5a5a5a" stroke-width="1"/>
<line x1="285" y1="1329.8" x2="289.2" y2="1329.8" stroke="#5a5a5a" stroke-width="1"/>
<line x1="285" y1="1352.2" x2="289.2" y2="1352.2" stroke="#5a5a5a" stroke-width="1"/>
<line x1="285" y1="1374.7" x2="289.2" y2="1374.7" stroke="#5a5a5a" stroke-width="1"/>
<line x1="285" y1="1385" x2="289.2" y2="1385" stroke="#5a5a5a" stroke-width="1"/>
<text x="283" y="1297.9" font-size="24.8" text-anchor="end" textLength="33.8" lengthAdjust="spacingAndGlyphs" stroke="#000" stroke-width="0.3">400</text>
<text x="283" y="1386.6" font-size="24.8" text-anchor="end" textLength="11.3" lengthAdjust="spacingAndGlyphs" stroke="#000" stroke-width="0.3">0</text>
<path d="M303,1386.2 L303,1385 L306,1379.6 L310,1383 L313,1385 L321,1384.4 L324,1383 L328,1384.4 L338,1384 L341,1381 L342.4,1368 L346,1365 L348,1380 L351,1384 L358,1384 L362,1382.4 L366,1383.6 L372,1385 L384,1385.6 L394,1384 L402,1383.6 L410,1382.4 L414,1384 L422,1384 L424,1376 L428,1372 L431,1374 L432.4,1348 L435,1352 L437,1372 L442,1372 L445,1380 L448,1382 L454,1384 L459,1380 L464,1381 L466,1384.4 L472,1383 L478,1381 L482,1376 L484,1375 L487,1380 L490,1384.4 L493,1381.6 L498,1382.4 L504,1383.6 L509,1382 L512,1379 L515,1380 L518,1384 L523,1382 L528,1380 L533,1376 L536,1379 L539,1384 L546,1385 L550,1384 L558,1385 L561,1378 L565.6,1362.4 L568,1368 L570,1382 L574,1384 L578,1383 L583,1367 L586,1374 L588,1383.6 L594,1383.6 L597,1382 L600,1384 L606,1380 L609,1374 L611.6,1369.6 L614,1374 L617,1384 L624,1385 L630,1383 L634,1356 L637,1312 L640,1350 L643,1378 L646,1384 L650,1384.4 L654,1377 L657,1379 L659,1384.4 L664,1384 L667,1379 L670,1384.4 L674,1384 L677,1374 L680,1374 L682,1382 L688,1381 L692,1383 L695,1374 L697.6,1366 L700,1372 L703,1376 L706,1383 L711,1381 L714,1383.6 L719,1383 L722,1379 L725,1382 L730,1380 L734,1382 L742,1384 L745,1370 L747.6,1366 L750,1374 L752.4,1384 L757,1382 L762,1384 L767,1384 L770,1379 L773,1377 L776,1374 L780,1364 L782,1370 L785,1380 L789,1384 L793,1381 L797,1380 L799,1384 L802,1380 L804,1360 L806.4,1348 L809,1358 L812,1376 L815,1378 L818,1377 L821,1384 L826,1385 L832,1384 L836,1381 L839,1383 L842,1385 L850,1385.6 L854,1384 L857,1385 L857,1386.2 Z" fill="#828287" stroke="#6e6e73" stroke-width="0.7" stroke-linejoin="round"/>
<line x1="299" y1="1388" x2="857" y2="1388" stroke="#5a5a5a" stroke-width="1.5"/>
<line x1="334" y1="1388" x2="334" y2="1392.5" stroke="#5a5a5a" stroke-width="1"/>
<line x1="443" y1="1388" x2="443" y2="1392.5" stroke="#5a5a5a" stroke-width="1"/>
<line x1="551.6" y1="1388" x2="551.6" y2="1392.5" stroke="#5a5a5a" stroke-width="1"/>
<line x1="660.6" y1="1388" x2="660.6" y2="1392.5" stroke="#5a5a5a" stroke-width="1"/>
<line x1="769.6" y1="1388" x2="769.6" y2="1392.5" stroke="#5a5a5a" stroke-width="1"/>
<text x="109" y="1504.3" font-size="32.5" fill="#e9932f" textLength="142" lengthAdjust="spacingAndGlyphs">ROR<tspan font-family="'Liberation Serif', serif">&#945;</tspan>-T2A</text>
<line x1="289.2" y1="1435.1" x2="289.2" y2="1523" stroke="#5a5a5a" stroke-width="1"/>
<line x1="285" y1="1435.1" x2="289.2" y2="1435.1" stroke="#5a5a5a" stroke-width="1"/>
<line x1="285" y1="1478.4" x2="289.2" y2="1478.4" stroke="#5a5a5a" stroke-width="1"/>
<line x1="285" y1="1521.8" x2="289.2" y2="1521.8" stroke="#5a5a5a" stroke-width="1"/>
<text x="283" y="1452.4" font-size="24.8" text-anchor="end" textLength="33.8" lengthAdjust="spacingAndGlyphs" stroke="#000" stroke-width="0.3">400</text>
<text x="283" y="1524.2" font-size="24.8" text-anchor="end" textLength="11.3" lengthAdjust="spacingAndGlyphs" stroke="#000" stroke-width="0.3">0</text>
<path d="M303,1517.6 L303,1517.6 L305.6,1511 L309,1514 L311,1516 L316,1518 L319,1516 L323,1509.6 L327,1514 L329,1517.6 L333,1517.6 L336,1512.4 L340,1509.6 L344,1511 L348,1507 L351,1503.6 L354,1509 L358,1514 L362,1516.4 L366,1517.6 L370,1512 L374,1511.6 L379,1509 L382.4,1504.4 L385,1509 L388,1514 L393,1509 L396,1507 L400,1509 L404,1508 L408,1505 L411,1507 L414,1512 L418,1514 L420,1510 L423,1498 L427.6,1487 L430,1492 L433,1498 L436,1493 L440.4,1488 L443,1494 L446,1506 L449,1512 L452,1509.6 L456,1506 L460,1504 L463,1506 L466,1510 L470,1516 L473,1512 L478,1507 L482,1508.4 L486,1512 L489,1505 L492,1503.6 L496,1505.6 L501,1499 L505,1506 L508,1510 L512,1498 L515,1504 L518,1510 L521,1505 L525,1504 L529,1502 L532.4,1499 L536,1503.6 L540,1502 L545,1498 L549,1500 L552,1505 L555,1507 L558,1502 L562,1501 L566,1499.6 L570,1501 L574,1505 L578,1502 L582,1503 L587,1501.6 L592,1505 L596,1509 L600,1504 L604,1494.4 L607,1502 L610,1510 L615,1512 L618,1514 L621,1510 L626,1504 L630,1501 L636,1500.4 L640,1502 L645,1500.4 L649,1503 L652,1507 L656,1505 L660,1516 L663,1518.4 L667,1514 L670,1517 L672,1521 L674,1518 L678,1498 L682,1494 L686,1490 L690,1492 L693,1499 L696,1500 L700,1500.4 L703,1504 L706,1507 L710,1502 L713,1500 L716,1503.6 L722,1504 L727,1501.6 L730,1499 L733,1506 L736,1512 L740,1510 L744,1482 L747,1455 L750,1464 L752,1508 L755,1514 L758,1508 L764,1506 L770,1505.6 L774,1504.4 L780,1507 L784,1512 L787,1517.6 L790,1510 L795,1508 L799,1507 L804,1494 L807.6,1486 L811,1496 L814,1506 L818,1512 L822,1510 L826,1511 L830,1514 L833,1517.6 L836,1518 L840,1516 L844,1518 L850,1523 L854,1518 L856,1517 L856,1518.5 Z" fill="#f7ae42" stroke="#eca03a" stroke-width="0.7" stroke-linejoin="round"/>
<line x1="299" y1="1526.4" x2="857" y2="1526.4" stroke="#5a5a5a" stroke-width="1.5"/>
<line x1="334" y1="1526.4" x2="334" y2="1530.9" stroke="#5a5a5a" stroke-width="1"/>
<line x1="443" y1="1526.4" x2="443" y2="1530.9" stroke="#5a5a5a" stroke-width="1"/>
<line x1="551.6" y1="1526.4" x2="551.6" y2="1530.9" stroke="#5a5a5a" stroke-width="1"/>
<line x1="660.6" y1="1526.4" x2="660.6" y2="1530.9" stroke="#5a5a5a" stroke-width="1"/>
<line x1="769.6" y1="1526.4" x2="769.6" y2="1530.9" stroke="#5a5a5a" stroke-width="1"/>
<text x="110" y="1597.2" font-size="32.5" fill="#29a2cf" textLength="158" lengthAdjust="spacingAndGlyphs" stroke="#29a2cf" stroke-width="0.3">GATA-3-T2A</text>
<line x1="289.2" y1="1536.3" x2="289.2" y2="1624" stroke="#5a5a5a" stroke-width="1"/>
<line x1="285" y1="1536.3" x2="289.2" y2="1536.3" stroke="#5a5a5a" stroke-width="1"/>
<line x1="285" y1="1579.7" x2="289.2" y2="1579.7" stroke="#5a5a5a" stroke-width="1"/>
<line x1="285" y1="1623" x2="289.2" y2="1623" stroke="#5a5a5a" stroke-width="1"/>
<text x="283" y="1553.6" font-size="24.8" text-anchor="end" textLength="33.8" lengthAdjust="spacingAndGlyphs" stroke="#000" stroke-width="0.3">400</text>
<text x="283" y="1625.4" font-size="24.8" text-anchor="end" textLength="11.3" lengthAdjust="spacingAndGlyphs" stroke="#000" stroke-width="0.3">0</text>
<path d="M303.6,1620 L303.6,1620 L305,1615.6 L309,1614 L312,1605.6 L316,1607 L318,1615 L322,1614 L327,1615.6 L330,1617.6 L333,1619 L337,1613 L342,1608 L346,1607.6 L350,1607 L353,1612 L356,1612 L359,1614 L362,1616 L365,1616 L370,1612 L374,1611 L380,1611 L384,1610 L388,1612 L394,1611 L398,1608.4 L402,1611 L406,1611 L409,1609 L412,1614 L415,1619 L419,1615 L422,1601 L425,1596 L428,1602 L431,1604.4 L434,1602 L437,1603.6 L439,1602 L442,1608 L446,1607 L449,1601 L452,1601.6 L455,1607 L460,1607.6 L465,1608.4 L469,1612 L473,1616 L477,1613 L480,1608.4 L483,1613 L487,1615.6 L491,1612 L496,1613 L500,1610 L505,1609 L510,1611 L515,1614 L520,1612 L523,1605 L527,1605 L530,1607 L533,1605 L536,1602 L539,1607 L542,1614 L547,1614 L552,1613 L557,1609.6 L560,1607 L563,1608.4 L567,1609.6 L570,1611 L574,1612 L578,1611 L581,1598 L582,1596 L585,1598 L588,1614 L592,1614 L595,1611 L599,1609 L602,1613 L607,1611 L610,1609.6 L615,1612 L619,1609 L624,1602 L628,1599 L630,1593 L632,1596 L636,1593 L640,1596 L644,1605 L647,1606 L650,1595.6 L653,1596 L656,1607 L659,1605 L662,1608 L666,1610 L670,1616 L672,1622 L676,1614 L682,1612 L686,1609 L691,1605.6 L695,1607 L698,1610 L702,1609 L707,1604 L710,1608 L713,1600 L717,1588 L721,1579 L724,1588 L727,1606 L730,1610 L734,1614 L739,1618 L743,1610 L747,1597.6 L750,1600 L753,1614 L756,1612 L759,1603 L762,1608 L765,1612 L769,1591 L772,1593.6 L774,1608 L777,1606 L780,1599 L783,1599 L786,1606 L790,1612 L794,1613 L799,1612.4 L803,1606 L806,1556 L808.4,1544 L811,1560 L813,1594 L816,1610 L819,1614 L824,1610 L828,1614 L832,1616 L838,1615 L842,1615.6 L845,1621 L848,1623.6 L854,1622 L856,1623.6 L856,1622.8 Z" fill="#45a4d8" stroke="#3c94c4" stroke-width="0.7" stroke-linejoin="round"/>
<line x1="299" y1="1627.4" x2="857" y2="1627.4" stroke="#5a5a5a" stroke-width="1.5"/>
<line x1="334" y1="1627.4" x2="334" y2="1631.9" stroke="#5a5a5a" stroke-width="1"/>
<line x1="443" y1="1627.4" x2="443" y2="1631.9" stroke="#5a5a5a" stroke-width="1"/>
<line x1="551.6" y1="1627.4" x2="551.6" y2="1631.9" stroke="#5a5a5a" stroke-width="1"/>
<line x1="660.6" y1="1627.4" x2="660.6" y2="1631.9" stroke="#5a5a5a" stroke-width="1"/>
<line x1="769.6" y1="1627.4" x2="769.6" y2="1631.9" stroke="#5a5a5a" stroke-width="1"/>
<text x="118.4" y="1694.3" font-size="32.5" textLength="63.1" lengthAdjust="spacingAndGlyphs" stroke="#000" stroke-width="0.3">Input</text>
<line x1="289.2" y1="1637.5" x2="289.2" y2="1727.3" stroke="#5a5a5a" stroke-width="1"/>
<line x1="285" y1="1637.5" x2="289.2" y2="1637.5" stroke="#5a5a5a" stroke-width="1"/>
<line x1="285" y1="1681.9" x2="289.2" y2="1681.9" stroke="#5a5a5a" stroke-width="1"/>
<line x1="285" y1="1726.3" x2="289.2" y2="1726.3" stroke="#5a5a5a" stroke-width="1"/>
<text x="283" y="1654.8" font-size="24.8" text-anchor="end" textLength="33.8" lengthAdjust="spacingAndGlyphs" stroke="#000" stroke-width="0.3">400</text>
<text x="283" y="1728.7" font-size="24.8" text-anchor="end" textLength="11.3" lengthAdjust="spacingAndGlyphs" stroke="#000" stroke-width="0.3">0</text>
<path d="M303.5,1718.1 L303.5,1718.1 L305.5,1713.1 L311.3,1708.4 L317,1711.1 L322.8,1710.4 L328.6,1715 L334.4,1712.3 L340.2,1711.9 L346,1715 L353.8,1711.9 L361.5,1710.4 L367.3,1709.2 L373.1,1711.1 L380.8,1711.9 L388.5,1716.9 L398.2,1712.3 L405.9,1715 L409.8,1711.9 L417.5,1713.1 L425.2,1709.2 L433,1711.1 L440.7,1711.9 L448.4,1714.2 L456.2,1711.1 L463.9,1713.1 L471.6,1711.9 L479.3,1709.6 L485.1,1718.1 L490.9,1713.1 L494.8,1715 L501.7,1708.1 L508.3,1713.1 L514.1,1715.8 L521.8,1711.1 L529.6,1709.2 L537.3,1711.1 L541.2,1708.4 L548.9,1711.1 L556.6,1711.1 L564.3,1710.4 L572.1,1711.9 L581.7,1705.3 L587.5,1711.1 L595.3,1709.2 L603,1709.2 L610.7,1710.4 L618.4,1713.1 L626.2,1709.2 L632,1711.1 L637.8,1702.6 L643.6,1709.2 L651.3,1708.1 L659,1707.3 L664.8,1709.2 L668.7,1714.2 L672.5,1723.9 L676.4,1713.1 L682.2,1707.3 L689.9,1709.2 L697.7,1707.3 L705.4,1713.1 L713.1,1705.3 L718.9,1698.4 L726.6,1707.3 L734.4,1715 L740.2,1713.1 L747.9,1702.3 L753.7,1711.1 L761.4,1711.1 L769.1,1713.1 L776.9,1711.1 L783.8,1704.2 L790.4,1711.1 L796.2,1711.9 L803.9,1705.3 L809.7,1702.6 L817.4,1711.1 L825.2,1714.2 L831,1715 L838.7,1711.9 L844.5,1718.9 L848.3,1726.6 L854.1,1724.7 L856.1,1723.9 L856.1,1724.7 Z" fill="#1f1c1d" stroke="#1f1c1d" stroke-width="0.7" stroke-linejoin="round"/>
<line x1="299" y1="1729.7" x2="857" y2="1729.7" stroke="#5a5a5a" stroke-width="1.5"/>
<line x1="334" y1="1729.7" x2="334" y2="1734.2" stroke="#5a5a5a" stroke-width="1"/>
<line x1="443" y1="1729.7" x2="443" y2="1734.2" stroke="#5a5a5a" stroke-width="1"/>
<line x1="551.6" y1="1729.7" x2="551.6" y2="1734.2" stroke="#5a5a5a" stroke-width="1"/>
<line x1="660.6" y1="1729.7" x2="660.6" y2="1734.2" stroke="#5a5a5a" stroke-width="1"/>
<line x1="769.6" y1="1729.7" x2="769.6" y2="1734.2" stroke="#5a5a5a" stroke-width="1"/>
<text x="119.4" y="1801.7" font-size="32.5" fill="#6d4524" textLength="42.7" lengthAdjust="spacingAndGlyphs" stroke="#6d4524" stroke-width="0.3">WT</text>
<line x1="289.2" y1="1739.7" x2="289.2" y2="1828.5" stroke="#5a5a5a" stroke-width="1"/>
<line x1="285" y1="1739.7" x2="289.2" y2="1739.7" stroke="#5a5a5a" stroke-width="1"/>
<line x1="285" y1="1783.6" x2="289.2" y2="1783.6" stroke="#5a5a5a" stroke-width="1"/>
<line x1="285" y1="1827.5" x2="289.2" y2="1827.5" stroke="#5a5a5a" stroke-width="1"/>
<text x="283" y="1757" font-size="24.8" text-anchor="end" textLength="33.8" lengthAdjust="spacingAndGlyphs" stroke="#000" stroke-width="0.3">400</text>
<text x="283" y="1829.9" font-size="24.8" text-anchor="end" textLength="11.3" lengthAdjust="spacingAndGlyphs" stroke="#000" stroke-width="0.3">0</text>
<path d="M298.5,1823.1 L298.5,1823.1 L300.8,1814.2 L305.5,1816.1 L309.3,1820.8 L315.1,1816.9 L320.9,1812.3 L326.7,1818.1 L332.5,1816.1 L340.2,1808.4 L346,1810.3 L351.8,1809.6 L357.6,1814.2 L365.3,1811.5 L373.1,1812.3 L378.9,1814.2 L384.7,1810.3 L390.5,1812.3 L396.3,1805.3 L402.1,1814.2 L407.9,1813.1 L413.6,1818.1 L423.3,1810.3 L429.1,1811.5 L436.1,1803.8 L442.6,1808.4 L448.4,1814.2 L454.2,1811.5 L460,1814.2 L467.7,1811.5 L475.5,1812.3 L483.2,1816.1 L490.9,1809.2 L498.7,1807.6 L504.5,1812.3 L510.2,1809.2 L516,1811.5 L523.8,1803.8 L529.6,1809.2 L537.3,1811.5 L545,1814.2 L552.8,1811.5 L560.5,1807.6 L568.2,1805.7 L575.9,1808.4 L585.6,1806.5 L593.3,1810.3 L599.1,1812.3 L606.8,1811.5 L614.6,1812.3 L622.3,1810.3 L630,1814.2 L637.8,1812.3 L645.5,1816.1 L651.3,1808.4 L657.1,1816.1 L662.9,1812.3 L667.9,1818.1 L672.5,1825.8 L678.3,1812.3 L684.1,1815.4 L691.9,1810.3 L701.5,1804.6 L709.2,1810.3 L717,1816.1 L724.7,1809.2 L732.4,1810.3 L740.2,1814.2 L749.8,1813.1 L755.6,1818.1 L761.4,1814.2 L769.1,1816.1 L776.9,1816.1 L784.6,1814.2 L792.3,1813.4 L796.2,1816.1 L803.9,1808.4 L811.6,1812.3 L823.2,1816.1 L834.8,1816.9 L842.6,1819.2 L848.3,1823.1 L854.1,1826.2 L854.1,1826.2 Z" fill="#7b4b22" stroke="#5f3b1c" stroke-width="0.7" stroke-linejoin="round"/>
<line x1="299" y1="1830.5" x2="857" y2="1830.5" stroke="#5a5a5a" stroke-width="1.5"/>
<line x1="334" y1="1830.5" x2="334" y2="1835" stroke="#5a5a5a" stroke-width="1"/>
<line x1="443" y1="1830.5" x2="443" y2="1835" stroke="#5a5a5a" stroke-width="1"/>
<line x1="551.6" y1="1830.5" x2="551.6" y2="1835" stroke="#5a5a5a" stroke-width="1"/>
<line x1="660.6" y1="1830.5" x2="660.6" y2="1835" stroke="#5a5a5a" stroke-width="1"/>
<line x1="769.6" y1="1830.5" x2="769.6" y2="1835" stroke="#5a5a5a" stroke-width="1"/>
<line x1="935.7" y1="838.5" x2="935.7" y2="933.3" stroke="#5a5a5a" stroke-width="1"/>
<line x1="930.8" y1="838.5" x2="935.7" y2="838.5" stroke="#5a5a5a" stroke-width="1"/>
<line x1="930.8" y1="862.2" x2="935.7" y2="862.2" stroke="#5a5a5a" stroke-width="1"/>
<line x1="930.8" y1="885.9" x2="935.7" y2="885.9" stroke="#5a5a5a" stroke-width="1"/>
<line x1="930.8" y1="909.6" x2="935.7" y2="909.6" stroke="#5a5a5a" stroke-width="1"/>
<line x1="930.8" y1="933.3" x2="935.7" y2="933.3" stroke="#5a5a5a" stroke-width="1"/>
<text x="925.4" y="856.5" font-size="24.3" text-anchor="end" textLength="33.4" lengthAdjust="spacingAndGlyphs" stroke="#000" stroke-width="0.3">400</text>
<text x="924.9" y="935.5" font-size="24.3" text-anchor="end" textLength="10.6" lengthAdjust="spacingAndGlyphs" stroke="#000" stroke-width="0.3">0</text>
<path d="M956.5,931.2 L956.5,931.2 L966.9,930.4 L971,907.2 L974.3,883.2 L982.6,883.2 L986.7,907.2 L989.6,927.1 L995.8,930.4 L1012.4,932 L1028.9,932 L1045.5,930 L1062,932 L1078.6,930.4 L1095.1,930.4 L1111.7,931.2 L1128.2,932 L1136.5,925.8 L1144.8,921.7 L1155.1,918.8 L1165.5,916.3 L1173.8,921.7 L1182,928.7 L1190.3,925.8 L1198.6,919.6 L1204.8,918.8 L1211,921.7 L1217.2,923.8 L1223.4,913.4 L1231.7,910.5 L1235.8,910.5 L1242,903.1 L1248.2,857.6 L1252.4,840.2 L1257.3,845.2 L1260.6,865.8 L1264.8,894.8 L1268.9,913.4 L1275.1,923.8 L1279.3,927.9 L1289.6,928.7 L1295.8,925.8 L1304.1,927.1 L1312.4,931.2 L1322.7,927.9 L1331,928.7 L1337.2,930 L1341.3,911.4 L1347.5,909.3 L1352.5,905.2 L1357.9,917.6 L1364.1,925.8 L1374.4,930 L1388.9,930 L1401.3,928.7 L1409.6,930 L1417.9,931.2 L1430.3,932 L1446.8,932 L1455.1,930.4 L1467.5,931.2 L1475.8,932 L1488.2,931.2 L1490.3,932.9 L1490.3,931.2 Z" fill="#dd262a" stroke="#c41e24" stroke-width="0.7" stroke-linejoin="round"/>
<line x1="954.7" y1="937" x2="1494.4" y2="937" stroke="#5a5a5a" stroke-width="1.5"/>
<line x1="954.7" y1="937" x2="954.7" y2="941.5" stroke="#5a5a5a" stroke-width="1"/>
<line x1="1224.8" y1="937" x2="1224.8" y2="941.5" stroke="#5a5a5a" stroke-width="1"/>
<line x1="1494.4" y1="937" x2="1494.4" y2="941.5" stroke="#5a5a5a" stroke-width="1"/>
<line x1="935.7" y1="951.3" x2="935.7" y2="1046.4" stroke="#5a5a5a" stroke-width="1"/>
<line x1="930.8" y1="951.3" x2="935.7" y2="951.3" stroke="#5a5a5a" stroke-width="1"/>
<line x1="930.8" y1="975.1" x2="935.7" y2="975.1" stroke="#5a5a5a" stroke-width="1"/>
<line x1="930.8" y1="998.9" x2="935.7" y2="998.9" stroke="#5a5a5a" stroke-width="1"/>
<line x1="930.8" y1="1022.6" x2="935.7" y2="1022.6" stroke="#5a5a5a" stroke-width="1"/>
<line x1="930.8" y1="1046.4" x2="935.7" y2="1046.4" stroke="#5a5a5a" stroke-width="1"/>
<text x="925.4" y="969.3" font-size="24.3" text-anchor="end" textLength="33.4" lengthAdjust="spacingAndGlyphs" stroke="#000" stroke-width="0.3">400</text>
<text x="924.9" y="1048.6" font-size="24.3" text-anchor="end" textLength="10.6" lengthAdjust="spacingAndGlyphs" stroke="#000" stroke-width="0.3">0</text>
<path d="M958.7,1046.6 L958.7,1046.6 L968,1044 L972.9,1016 L984.1,1019 L988.6,1045.1 L996.1,1045.9 L1003.5,1045.1 L1014.7,1046.6 L1029.7,1045.9 L1048.4,1044.4 L1067.1,1045.9 L1089.5,1045.9 L1104.4,1046.6 L1119.4,1045.1 L1141.8,1044.4 L1164.2,1044 L1179.2,1044 L1194.1,1042.2 L1209.1,1045.1 L1224,1045.1 L1239,1040.3 L1246.4,1027.2 L1255.8,1009.3 L1261.4,1015.3 L1268.8,1036.6 L1276.3,1040.3 L1283.8,1038.4 L1291.3,1036.6 L1298.7,1038.4 L1310,1045.1 L1321.2,1045.1 L1336.1,1045.9 L1341.7,1034.7 L1347.3,1033.9 L1352.2,1015.3 L1362.3,1016 L1373.5,1045.1 L1388.4,1046.6 L1410.9,1045.9 L1433.3,1046.6 L1448.2,1042.9 L1463.2,1044.4 L1478.1,1045.1 L1491.2,1047.8 L1491.2,1046.6 Z" fill="#03a04b" stroke="#128a43" stroke-width="0.7" stroke-linejoin="round"/>
<line x1="954.7" y1="1050.8" x2="1494.4" y2="1050.8" stroke="#5a5a5a" stroke-width="1.5"/>
<line x1="954.7" y1="1050.8" x2="954.7" y2="1055.3" stroke="#5a5a5a" stroke-width="1"/>
<line x1="1224.8" y1="1050.8" x2="1224.8" y2="1055.3" stroke="#5a5a5a" stroke-width="1"/>
<line x1="1494.4" y1="1050.8" x2="1494.4" y2="1055.3" stroke="#5a5a5a" stroke-width="1"/>
<line x1="935.7" y1="1064.5" x2="935.7" y2="1159.6" stroke="#5a5a5a" stroke-width="1"/>
<line x1="930.8" y1="1064.5" x2="935.7" y2="1064.5" stroke="#5a5a5a" stroke-width="1"/>
<line x1="930.8" y1="1088.3" x2="935.7" y2="1088.3" stroke="#5a5a5a" stroke-width="1"/>
<line x1="930.8" y1="1112" x2="935.7" y2="1112" stroke="#5a5a5a" stroke-width="1"/>
<line x1="930.8" y1="1135.8" x2="935.7" y2="1135.8" stroke="#5a5a5a" stroke-width="1"/>
<line x1="930.8" y1="1159.6" x2="935.7" y2="1159.6" stroke="#5a5a5a" stroke-width="1"/>
<text x="925.4" y="1082.5" font-size="24.3" text-anchor="end" textLength="33.4" lengthAdjust="spacingAndGlyphs" stroke="#000" stroke-width="0.3">400</text>
<text x="924.9" y="1161.8" font-size="24.3" text-anchor="end" textLength="10.6" lengthAdjust="spacingAndGlyphs" stroke="#000" stroke-width="0.3">0</text>
<path d="M955.3,1158.4 L955.3,1158.4 L956.5,1152.6 L960.7,1155.5 L966.9,1153.4 L971.8,1126.5 L976,1123.6 L981.4,1128.6 L985.5,1155.5 L991.7,1157.6 L1004.1,1157.6 L1020.7,1158.4 L1033.1,1155.5 L1045.5,1158.4 L1057.9,1156.7 L1070.3,1159.2 L1086.9,1158.4 L1095.1,1155.5 L1103.4,1156.7 L1120,1159.2 L1128.2,1158.4 L1136.5,1154.3 L1144.8,1153.4 L1153.1,1155.5 L1169.6,1156.7 L1186.2,1155.9 L1202.7,1155.5 L1219.3,1155.5 L1231.7,1151.4 L1240,1145.2 L1250.3,1139 L1256.5,1136.9 L1264.8,1145.2 L1271,1152.6 L1277.2,1154.3 L1285.5,1154.3 L1295.8,1152.6 L1304.1,1155.5 L1318.6,1156.7 L1331,1158.4 L1339.2,1155.5 L1347.5,1151.8 L1355.8,1151 L1364.1,1153.4 L1372.3,1158.4 L1388.9,1157.6 L1403.4,1153.4 L1413.7,1155.9 L1430.3,1157.6 L1442.7,1156.7 L1459.2,1156.3 L1467.5,1155.5 L1479.9,1158.4 L1490.3,1156.7 L1494.4,1158.4 L1494.4,1158.4 Z" fill="#8e248e" stroke="#741e74" stroke-width="0.7" stroke-linejoin="round"/>
<line x1="954.7" y1="1163.8" x2="1494.4" y2="1163.8" stroke="#5a5a5a" stroke-width="1.5"/>
<line x1="954.7" y1="1163.8" x2="954.7" y2="1168.3" stroke="#5a5a5a" stroke-width="1"/>
<line x1="1224.8" y1="1163.8" x2="1224.8" y2="1168.3" stroke="#5a5a5a" stroke-width="1"/>
<line x1="1494.4" y1="1163.8" x2="1494.4" y2="1168.3" stroke="#5a5a5a" stroke-width="1"/>
<line x1="935.7" y1="1176.2" x2="935.7" y2="1269.3" stroke="#5a5a5a" stroke-width="1"/>
<line x1="930.8" y1="1176.2" x2="935.7" y2="1176.2" stroke="#5a5a5a" stroke-width="1"/>
<line x1="930.8" y1="1199.5" x2="935.7" y2="1199.5" stroke="#5a5a5a" stroke-width="1"/>
<line x1="930.8" y1="1222.8" x2="935.7" y2="1222.8" stroke="#5a5a5a" stroke-width="1"/>
<line x1="930.8" y1="1246" x2="935.7" y2="1246" stroke="#5a5a5a" stroke-width="1"/>
<line x1="930.8" y1="1269.3" x2="935.7" y2="1269.3" stroke="#5a5a5a" stroke-width="1"/>
<text x="925.4" y="1194.2" font-size="24.3" text-anchor="end" textLength="33.4" lengthAdjust="spacingAndGlyphs" stroke="#000" stroke-width="0.3">400</text>
<text x="924.9" y="1271.5" font-size="24.3" text-anchor="end" textLength="10.6" lengthAdjust="spacingAndGlyphs" stroke="#000" stroke-width="0.3">0</text>
<path d="M955.3,1269.3 L955.3,1269.3 L962.7,1267.2 L969,1265.1 L973.1,1237 L979.3,1238.2 L983.4,1248.6 L986.7,1266 L995.8,1267.2 L1008.3,1269.3 L1016.5,1267.2 L1026.9,1265.1 L1041.4,1266.4 L1057.9,1268.5 L1074.5,1269.3 L1095.1,1270.1 L1111.7,1270.5 L1128.2,1269.3 L1136.5,1265.1 L1140.7,1263.1 L1148.9,1265.1 L1161.3,1266 L1169.6,1267.2 L1186.2,1267.2 L1198.6,1266 L1211,1268.5 L1217.2,1264.3 L1227.5,1264.3 L1235.8,1265.1 L1244.1,1258.9 L1250.3,1244.5 L1254.4,1241.1 L1260.6,1248.6 L1268.9,1258.9 L1273,1267.2 L1283.4,1268.5 L1289.6,1265.1 L1295.8,1261 L1302,1263.1 L1310.3,1267.2 L1322.7,1267.2 L1335.1,1267.2 L1343.4,1263.1 L1351.7,1261.8 L1359.1,1261 L1366.1,1266 L1372.3,1269.3 L1388.9,1268.5 L1405.4,1266 L1422,1268.5 L1438.5,1269.3 L1459.2,1268.5 L1475.8,1268.5 L1482,1265.1 L1490.3,1267.2 L1494.4,1269.3 L1494.4,1269.3 Z" fill="#38389a" stroke="#2d2d85" stroke-width="0.7" stroke-linejoin="round"/>
<line x1="954.7" y1="1274.7" x2="1494.4" y2="1274.7" stroke="#5a5a5a" stroke-width="1.5"/>
<line x1="954.7" y1="1274.7" x2="954.7" y2="1279.2" stroke="#5a5a5a" stroke-width="1"/>
<line x1="1224.8" y1="1274.7" x2="1224.8" y2="1279.2" stroke="#5a5a5a" stroke-width="1"/>
<line x1="1494.4" y1="1274.7" x2="1494.4" y2="1279.2" stroke="#5a5a5a" stroke-width="1"/>
<line x1="935.7" y1="1287.4" x2="935.7" y2="1381.7" stroke="#5a5a5a" stroke-width="1"/>
<line x1="930.8" y1="1287.4" x2="935.7" y2="1287.4" stroke="#5a5a5a" stroke-width="1"/>
<line x1="930.8" y1="1311" x2="935.7" y2="1311" stroke="#5a5a5a" stroke-width="1"/>
<line x1="930.8" y1="1334.6" x2="935.7" y2="1334.6" stroke="#5a5a5a" stroke-width="1"/>
<line x1="930.8" y1="1358.1" x2="935.7" y2="1358.1" stroke="#5a5a5a" stroke-width="1"/>
<line x1="930.8" y1="1381.7" x2="935.7" y2="1381.7" stroke="#5a5a5a" stroke-width="1"/>
<text x="925.4" y="1305.4" font-size="24.3" text-anchor="end" textLength="33.4" lengthAdjust="spacingAndGlyphs" stroke="#000" stroke-width="0.3">400</text>
<text x="924.9" y="1383.9" font-size="24.3" text-anchor="end" textLength="10.6" lengthAdjust="spacingAndGlyphs" stroke="#000" stroke-width="0.3">0</text>
<path d="M956.5,1381.7 L956.5,1381.7 L960.7,1379.3 L966.9,1380.5 L971.8,1357.7 L983.4,1357.7 L988.4,1378.4 L995.8,1379.3 L1004.1,1378.4 L1020.7,1380.5 L1037.2,1379.3 L1053.8,1378.4 L1070.3,1377.6 L1082.7,1379.3 L1095.1,1381.7 L1111.7,1382.6 L1128.2,1382.6 L1134.4,1376.4 L1140.7,1373.5 L1148.9,1375.1 L1155.1,1381.7 L1169.6,1381.7 L1190.3,1381.7 L1211,1380.9 L1227.5,1381.7 L1233.7,1376.4 L1244.1,1369.3 L1256.5,1365.2 L1264.8,1369.3 L1273,1376.4 L1279.3,1381.7 L1287.5,1376.4 L1295.8,1374.3 L1306.1,1377.6 L1312.4,1381.7 L1326.8,1381.7 L1339.2,1380.9 L1347.5,1376.4 L1355.8,1373.5 L1364.1,1375.1 L1372.3,1380.5 L1388.9,1380.1 L1405.4,1380.5 L1422,1381.7 L1430.3,1379.3 L1442.7,1378.4 L1457.2,1379.3 L1463.4,1380.9 L1473.7,1379.3 L1482,1373.5 L1488.2,1376.4 L1492.3,1382.6 L1492.3,1381.7 Z" fill="#828287" stroke="#6e6e73" stroke-width="0.7" stroke-linejoin="round"/>
<line x1="954.7" y1="1385.9" x2="1494.4" y2="1385.9" stroke="#5a5a5a" stroke-width="1.5"/>
<line x1="954.7" y1="1385.9" x2="954.7" y2="1390.4" stroke="#5a5a5a" stroke-width="1"/>
<line x1="1224.8" y1="1385.9" x2="1224.8" y2="1390.4" stroke="#5a5a5a" stroke-width="1"/>
<line x1="1494.4" y1="1385.9" x2="1494.4" y2="1390.4" stroke="#5a5a5a" stroke-width="1"/>
<line x1="935.7" y1="1436.9" x2="935.7" y2="1525.3" stroke="#5a5a5a" stroke-width="1"/>
<line x1="930.8" y1="1436.9" x2="935.7" y2="1436.9" stroke="#5a5a5a" stroke-width="1"/>
<line x1="930.8" y1="1449.5" x2="935.7" y2="1449.5" stroke="#5a5a5a" stroke-width="1"/>
<line x1="930.8" y1="1462.2" x2="935.7" y2="1462.2" stroke="#5a5a5a" stroke-width="1"/>
<line x1="930.8" y1="1474.8" x2="935.7" y2="1474.8" stroke="#5a5a5a" stroke-width="1"/>
<line x1="930.8" y1="1487.4" x2="935.7" y2="1487.4" stroke="#5a5a5a" stroke-width="1"/>
<line x1="930.8" y1="1500" x2="935.7" y2="1500" stroke="#5a5a5a" stroke-width="1"/>
<line x1="930.8" y1="1512.7" x2="935.7" y2="1512.7" stroke="#5a5a5a" stroke-width="1"/>
<line x1="930.8" y1="1525.3" x2="935.7" y2="1525.3" stroke="#5a5a5a" stroke-width="1"/>
<text x="924.6" y="1454.3" font-size="24.3" text-anchor="end" textLength="31.8" lengthAdjust="spacingAndGlyphs" stroke="#000" stroke-width="0.3">350</text>
<text x="924.9" y="1530.5" font-size="24.3" text-anchor="end" textLength="10.6" lengthAdjust="spacingAndGlyphs" stroke="#000" stroke-width="0.3">0</text>
<path d="M957.4,1520.4 L957.4,1520.2 L959.5,1515 L962.6,1502.6 L966.7,1500.5 L970.9,1496.8 L974,1496.4 L977.1,1503.6 L981.2,1506.7 L987.4,1507.8 L993.6,1508.4 L999.8,1500.5 L1003.9,1502.6 L1010.1,1506.7 L1016.3,1511.9 L1024.6,1510.9 L1032.8,1502.6 L1041.1,1501.6 L1049.4,1502.6 L1055.5,1503.6 L1060.7,1503.6 L1065.9,1507.8 L1070,1509.8 L1074.1,1508.4 L1078.3,1510.9 L1086.5,1513.3 L1091.7,1515 L1096.9,1510.9 L1102,1510.5 L1107.2,1511.9 L1112.3,1513.3 L1118.5,1509.8 L1127.8,1509.8 L1136.1,1512.9 L1140.2,1512.5 L1146.4,1515.4 L1154.7,1516.2 L1160.9,1515 L1165,1511.9 L1173.3,1509.8 L1177.4,1504.7 L1183.6,1503.6 L1184.3,1500.2 L1190.7,1496.6 L1197.1,1499.1 L1202.5,1504.5 L1207.8,1508.8 L1213.1,1506.6 L1218.5,1503.8 L1224.9,1493.8 L1230.3,1485.2 L1236.7,1477.7 L1240.9,1472.4 L1246.3,1455.3 L1251.6,1440.3 L1257,1452.1 L1261.3,1469.2 L1266.6,1498.1 L1269.8,1501.7 L1276.2,1505.1 L1282.7,1503.8 L1291.2,1505.1 L1299.8,1507.7 L1306.2,1508.1 L1312.6,1512 L1321.1,1508.8 L1327.6,1509.4 L1332.9,1515.2 L1337.2,1520.1 L1342.5,1520.1 L1348.9,1507.7 L1353.7,1498.1 L1358.6,1490.6 L1363.9,1499.1 L1368.2,1501.7 L1373.5,1516.2 L1378.9,1514.1 L1383.2,1515.2 L1388.5,1509.8 L1393.9,1510.9 L1400.3,1509.8 L1406.7,1510.9 L1413.1,1509.8 L1421.7,1507.7 L1428.1,1510.9 L1438.8,1514.1 L1443,1510.9 L1448.4,1508.8 L1452.7,1512 L1458,1507.7 L1462.3,1509.4 L1466.6,1510.9 L1470.8,1506 L1475.1,1511.5 L1480.5,1508.1 L1486.9,1509.4 L1491.2,1520.5 L1491.2,1520.4 Z" fill="#f7ae42" stroke="#eca03a" stroke-width="0.7" stroke-linejoin="round"/>
<line x1="954.7" y1="1527" x2="1494.4" y2="1527" stroke="#5a5a5a" stroke-width="1.5"/>
<line x1="954.7" y1="1527" x2="954.7" y2="1531.5" stroke="#5a5a5a" stroke-width="1"/>
<line x1="1224.8" y1="1527" x2="1224.8" y2="1531.5" stroke="#5a5a5a" stroke-width="1"/>
<line x1="1494.4" y1="1527" x2="1494.4" y2="1531.5" stroke="#5a5a5a" stroke-width="1"/>
<line x1="935.7" y1="1537.3" x2="935.7" y2="1625.5" stroke="#5a5a5a" stroke-width="1"/>
<line x1="930.8" y1="1537.3" x2="935.7" y2="1537.3" stroke="#5a5a5a" stroke-width="1"/>
<line x1="930.8" y1="1549.9" x2="935.7" y2="1549.9" stroke="#5a5a5a" stroke-width="1"/>
<line x1="930.8" y1="1562.5" x2="935.7" y2="1562.5" stroke="#5a5a5a" stroke-width="1"/>
<line x1="930.8" y1="1575.1" x2="935.7" y2="1575.1" stroke="#5a5a5a" stroke-width="1"/>
<line x1="930.8" y1="1587.7" x2="935.7" y2="1587.7" stroke="#5a5a5a" stroke-width="1"/>
<line x1="930.8" y1="1600.3" x2="935.7" y2="1600.3" stroke="#5a5a5a" stroke-width="1"/>
<line x1="930.8" y1="1612.9" x2="935.7" y2="1612.9" stroke="#5a5a5a" stroke-width="1"/>
<line x1="930.8" y1="1625.5" x2="935.7" y2="1625.5" stroke="#5a5a5a" stroke-width="1"/>
<text x="924.6" y="1554.7" font-size="24.3" text-anchor="end" textLength="31.8" lengthAdjust="spacingAndGlyphs" stroke="#000" stroke-width="0.3">350</text>
<text x="924.9" y="1630.7" font-size="24.3" text-anchor="end" textLength="10.6" lengthAdjust="spacingAndGlyphs" stroke="#000" stroke-width="0.3">0</text>
<path d="M957.4,1620.7 L957.4,1620.7 L959.5,1616.2 L962.6,1609 L966.7,1611.7 L970.9,1610 L975,1611 L979.1,1610 L983.3,1609.6 L987.4,1611 L991.5,1609 L994.6,1607.5 L997.7,1609.6 L1003.9,1613.1 L1010.1,1618.3 L1016.3,1618.3 L1024.6,1613.1 L1032.8,1611.7 L1041.1,1612.5 L1044.2,1610 L1048.3,1583.2 L1054.5,1579 L1059.3,1579 L1061.7,1595.5 L1065.9,1610 L1069,1615.8 L1074.1,1614.5 L1078.3,1617.2 L1084.5,1614.1 L1092.7,1611 L1098.9,1609 L1105.1,1610.4 L1111.3,1613.1 L1115.4,1613.7 L1119.6,1612.1 L1122.7,1618.3 L1127.8,1616.6 L1133,1614.1 L1138.2,1607.9 L1144.4,1603.8 L1149.5,1602.2 L1156.7,1604.8 L1162.9,1607.5 L1169.1,1610.4 L1176.4,1613.1 L1183.6,1611 L1186.4,1611.4 L1190.7,1601.8 L1198.2,1591.1 L1203.5,1594.3 L1208.9,1601.8 L1214.2,1611.4 L1218.5,1612 L1224.9,1602.8 L1231.3,1598.6 L1236.7,1597.1 L1242,1599.6 L1247.4,1604.3 L1251.6,1604.3 L1255.9,1565.4 L1261.3,1548.3 L1267.3,1545.1 L1269.8,1565.4 L1274.1,1582.5 L1278.4,1593.2 L1286.9,1594.3 L1291.2,1599.6 L1296.6,1608.2 L1301.9,1611.4 L1311.5,1615 L1319,1612.5 L1326.5,1609.3 L1331.8,1611.4 L1337.2,1613.5 L1343.6,1601.8 L1351.1,1591.1 L1357.5,1590 L1363.9,1603.9 L1373.5,1615 L1381,1612.5 L1389.6,1609.3 L1394.9,1608.2 L1401.3,1612 L1407.8,1614.6 L1413.1,1610.3 L1417.4,1608.6 L1422.7,1610.8 L1428.1,1614.6 L1433.4,1617.8 L1439.8,1614.6 L1448.4,1609.3 L1453.7,1610.3 L1461.2,1608.2 L1466.6,1609.3 L1471.9,1612.5 L1476.2,1618.9 L1481.5,1618.9 L1488,1616.7 L1492.2,1620.6 L1492.2,1620.7 Z" fill="#45a4d8" stroke="#3c94c4" stroke-width="0.7" stroke-linejoin="round"/>
<line x1="954.7" y1="1627.1" x2="1494.4" y2="1627.1" stroke="#5a5a5a" stroke-width="1.5"/>
<line x1="954.7" y1="1627.1" x2="954.7" y2="1631.6" stroke="#5a5a5a" stroke-width="1"/>
<line x1="1224.8" y1="1627.1" x2="1224.8" y2="1631.6" stroke="#5a5a5a" stroke-width="1"/>
<line x1="1494.4" y1="1627.1" x2="1494.4" y2="1631.6" stroke="#5a5a5a" stroke-width="1"/>
<line x1="935.7" y1="1637.4" x2="935.7" y2="1726" stroke="#5a5a5a" stroke-width="1"/>
<line x1="930.8" y1="1637.4" x2="935.7" y2="1637.4" stroke="#5a5a5a" stroke-width="1"/>
<line x1="930.8" y1="1650.1" x2="935.7" y2="1650.1" stroke="#5a5a5a" stroke-width="1"/>
<line x1="930.8" y1="1662.7" x2="935.7" y2="1662.7" stroke="#5a5a5a" stroke-width="1"/>
<line x1="930.8" y1="1675.4" x2="935.7" y2="1675.4" stroke="#5a5a5a" stroke-width="1"/>
<line x1="930.8" y1="1688" x2="935.7" y2="1688" stroke="#5a5a5a" stroke-width="1"/>
<line x1="930.8" y1="1700.7" x2="935.7" y2="1700.7" stroke="#5a5a5a" stroke-width="1"/>
<line x1="930.8" y1="1713.3" x2="935.7" y2="1713.3" stroke="#5a5a5a" stroke-width="1"/>
<line x1="930.8" y1="1726" x2="935.7" y2="1726" stroke="#5a5a5a" stroke-width="1"/>
<text x="924.6" y="1654.8" font-size="24.3" text-anchor="end" textLength="31.8" lengthAdjust="spacingAndGlyphs" stroke="#000" stroke-width="0.3">350</text>
<text x="924.9" y="1731.2" font-size="24.3" text-anchor="end" textLength="10.6" lengthAdjust="spacingAndGlyphs" stroke="#000" stroke-width="0.3">0</text>
<path d="M957.8,1717.7 L957.8,1717.7 L962.7,1712.7 L971,1709.4 L979.3,1712.7 L989.6,1716.1 L995.8,1714.4 L1008.3,1715.2 L1016.5,1712.7 L1028.9,1711.1 L1037.2,1709.4 L1045.5,1706.5 L1057.9,1705.3 L1062,1708.6 L1070.3,1714.8 L1086.9,1716.9 L1091.8,1718.1 L1103.4,1714.8 L1111.7,1711.9 L1117.9,1710.3 L1124.1,1713.6 L1136.5,1711.9 L1148.9,1710.7 L1165.5,1709.4 L1177.9,1712.7 L1190.3,1711.9 L1194.4,1708.6 L1206.9,1706.5 L1211,1709.4 L1219.3,1714.8 L1225.5,1708.6 L1235.8,1707.8 L1242,1710.7 L1246.2,1714.8 L1256.5,1716.1 L1262.7,1711.9 L1277.2,1711.1 L1285.5,1706.5 L1293.7,1705.7 L1306.1,1710.7 L1312.4,1716.9 L1320.6,1713.6 L1331,1714.8 L1347.5,1710.7 L1359.9,1711.5 L1368.2,1711.9 L1374.4,1716.1 L1393,1714.8 L1405.4,1713.6 L1417.9,1711.1 L1430.3,1713.6 L1442.7,1706.5 L1451,1708.6 L1459.2,1714.8 L1471.6,1716.1 L1484.1,1714.8 L1490.3,1716.9 L1490.3,1717.7 Z" fill="#1f1c1d" stroke="#1f1c1d" stroke-width="0.7" stroke-linejoin="round"/>
<line x1="954.7" y1="1729.3" x2="1494.4" y2="1729.3" stroke="#5a5a5a" stroke-width="1.5"/>
<line x1="954.7" y1="1729.3" x2="954.7" y2="1733.8" stroke="#5a5a5a" stroke-width="1"/>
<line x1="1224.8" y1="1729.3" x2="1224.8" y2="1733.8" stroke="#5a5a5a" stroke-width="1"/>
<line x1="1494.4" y1="1729.3" x2="1494.4" y2="1733.8" stroke="#5a5a5a" stroke-width="1"/>
<line x1="935.7" y1="1741.7" x2="935.7" y2="1827.8" stroke="#5a5a5a" stroke-width="1"/>
<line x1="930.8" y1="1741.7" x2="935.7" y2="1741.7" stroke="#5a5a5a" stroke-width="1"/>
<line x1="930.8" y1="1754" x2="935.7" y2="1754" stroke="#5a5a5a" stroke-width="1"/>
<line x1="930.8" y1="1766.3" x2="935.7" y2="1766.3" stroke="#5a5a5a" stroke-width="1"/>
<line x1="930.8" y1="1778.6" x2="935.7" y2="1778.6" stroke="#5a5a5a" stroke-width="1"/>
<line x1="930.8" y1="1790.9" x2="935.7" y2="1790.9" stroke="#5a5a5a" stroke-width="1"/>
<line x1="930.8" y1="1803.2" x2="935.7" y2="1803.2" stroke="#5a5a5a" stroke-width="1"/>
<line x1="930.8" y1="1815.5" x2="935.7" y2="1815.5" stroke="#5a5a5a" stroke-width="1"/>
<line x1="930.8" y1="1827.8" x2="935.7" y2="1827.8" stroke="#5a5a5a" stroke-width="1"/>
<text x="924.6" y="1759.1" font-size="24.3" text-anchor="end" textLength="31.8" lengthAdjust="spacingAndGlyphs" stroke="#000" stroke-width="0.3">350</text>
<text x="924.9" y="1833" font-size="24.3" text-anchor="end" textLength="10.6" lengthAdjust="spacingAndGlyphs" stroke="#000" stroke-width="0.3">0</text>
<path d="M955.3,1822.4 L955.3,1822.4 L962.7,1820.3 L971,1812 L981.4,1814.1 L989.6,1818.2 L1000,1811.2 L1008.3,1812 L1016.5,1819.5 L1026.9,1816.2 L1033.1,1812 L1043.4,1815.4 L1053.8,1815.4 L1060,1812.9 L1070.3,1819.5 L1078.6,1821.1 L1091,1817 L1103.4,1814.1 L1111.7,1812 L1117.9,1810 L1124.1,1814.1 L1128.2,1808.7 L1134.4,1811.2 L1139.8,1807.1 L1146.9,1816.2 L1153.1,1821.1 L1161.3,1812 L1169.6,1811.2 L1177.9,1814.1 L1184.1,1810.8 L1194.4,1812 L1206.9,1810.8 L1219.3,1818.2 L1225.5,1819.5 L1235.8,1810 L1248.2,1811.2 L1264.8,1812 L1275.1,1818.2 L1283.4,1812 L1289.6,1810 L1297.9,1812 L1308.2,1818.2 L1318.6,1816.2 L1328.9,1819.5 L1335.1,1821.1 L1345.5,1821.1 L1353.7,1816.2 L1364.1,1817 L1374.4,1816.2 L1384.8,1811.2 L1393,1814.1 L1399.2,1810 L1407.5,1816.2 L1417.9,1818.2 L1428.2,1820.3 L1440.6,1823.6 L1446.8,1820.3 L1459.2,1818.2 L1471.6,1814.1 L1484.1,1818.2 L1496.5,1820.3 L1498.5,1822.4 L1498.5,1822.4 Z" fill="#7b4b22" stroke="#5f3b1c" stroke-width="0.7" stroke-linejoin="round"/>
<line x1="954.7" y1="1831.9" x2="1494.4" y2="1831.9" stroke="#5a5a5a" stroke-width="1.5"/>
<line x1="954.7" y1="1831.9" x2="954.7" y2="1836.4" stroke="#5a5a5a" stroke-width="1"/>
<line x1="1224.8" y1="1831.9" x2="1224.8" y2="1836.4" stroke="#5a5a5a" stroke-width="1"/>
<line x1="1494.4" y1="1831.9" x2="1494.4" y2="1836.4" stroke="#5a5a5a" stroke-width="1"/>
<text x="273.6" y="1856.2" font-size="24.5" textLength="191.1" lengthAdjust="spacingAndGlyphs" stroke="#000" stroke-width="0.3">Chr12: 25050000</text>
<text x="715" y="1856.2" font-size="24.5" textLength="110" lengthAdjust="spacingAndGlyphs" stroke="#000" stroke-width="0.3">25250000</text>
<text x="920.5" y="1856.7" font-size="24.5" textLength="187.1" lengthAdjust="spacingAndGlyphs" stroke="#000" stroke-width="0.3">Chr13:52925000</text>
<text x="1389.7" y="1856.7" font-size="24.5" textLength="110.9" lengthAdjust="spacingAndGlyphs" stroke="#000" stroke-width="0.3">53025000</text>
<text x="0" y="1951.5" font-size="37" font-weight="bold">c</text>
<line x1="178.3" y1="1984.2" x2="178.3" y2="2280" stroke="#2b2b2b" stroke-width="2.2"/>
<line x1="164.1" y1="2278.9" x2="178.3" y2="2278.9" stroke="#2b2b2b" stroke-width="2"/>
<text x="160.4" y="2287" font-size="25.5" text-anchor="end" textLength="9.4" lengthAdjust="spacingAndGlyphs" stroke="#000" stroke-width="0.3">0</text>
<line x1="164.1" y1="2220.2" x2="178.3" y2="2220.2" stroke="#2b2b2b" stroke-width="2"/>
<text x="160.1" y="2228.3" font-size="25.5" text-anchor="end" textLength="22.4" lengthAdjust="spacingAndGlyphs" stroke="#000" stroke-width="0.3">50</text>
<line x1="164.1" y1="2161.4" x2="178.3" y2="2161.4" stroke="#2b2b2b" stroke-width="2"/>
<text x="158.5" y="2169.5" font-size="25.5" text-anchor="end" textLength="33.3" lengthAdjust="spacingAndGlyphs" stroke="#000" stroke-width="0.3">100</text>
<line x1="164.1" y1="2102.7" x2="178.3" y2="2102.7" stroke="#2b2b2b" stroke-width="2"/>
<text x="158.5" y="2110.8" font-size="25.5" text-anchor="end" textLength="33.3" lengthAdjust="spacingAndGlyphs" stroke="#000" stroke-width="0.3">150</text>
<line x1="164.1" y1="2043.9" x2="178.3" y2="2043.9" stroke="#2b2b2b" stroke-width="2"/>
<text x="158.5" y="2052" font-size="25.5" text-anchor="end" textLength="33.3" lengthAdjust="spacingAndGlyphs" stroke="#000" stroke-width="0.3">200</text>
<line x1="164.1" y1="1985.2" x2="178.3" y2="1985.2" stroke="#2b2b2b" stroke-width="2"/>
<text x="158.5" y="1993.3" font-size="25.5" text-anchor="end" textLength="33.3" lengthAdjust="spacingAndGlyphs" stroke="#000" stroke-width="0.3">250</text>
<text x="107.3" y="2125.1" font-size="24.7" text-anchor="middle" textLength="207" lengthAdjust="spacingAndGlyphs" transform="rotate(-90 107.3 2125.1)">Realtive expression</text>
<line x1="177.2" y1="2279" x2="723.2" y2="2279" stroke="#2b2b2b" stroke-width="2.2"/>
<line x1="228.3" y1="2279" x2="228.3" y2="2291.5" stroke="#2b2b2b" stroke-width="2"/>
<line x1="339.6" y1="2279" x2="339.6" y2="2291.5" stroke="#2b2b2b" stroke-width="2"/>
<line x1="450.7" y1="2279" x2="450.7" y2="2291.5" stroke="#2b2b2b" stroke-width="2"/>
<line x1="561.7" y1="2279" x2="561.7" y2="2291.5" stroke="#2b2b2b" stroke-width="2"/>
<line x1="672.7" y1="2279" x2="672.7" y2="2291.5" stroke="#2b2b2b" stroke-width="2"/>
<text x="191.9" y="2316.1" font-size="23.8" textLength="66.2" lengthAdjust="spacingAndGlyphs" stroke="#000" stroke-width="0.3">empty</text>
<text x="315.6" y="2316.1" font-size="23.8" textLength="55.2" lengthAdjust="spacingAndGlyphs" stroke="#000" stroke-width="0.3">20ng</text>
<text x="427.5" y="2316.1" font-size="23.8" textLength="53.4" lengthAdjust="spacingAndGlyphs" stroke="#000" stroke-width="0.3">50ng</text>
<text x="534.1" y="2316.1" font-size="23.8" textLength="66" lengthAdjust="spacingAndGlyphs" stroke="#000" stroke-width="0.3">100ng</text>
<text x="643.5" y="2316.1" font-size="23.8" textLength="66.6" lengthAdjust="spacingAndGlyphs" stroke="#000" stroke-width="0.3">200ng</text>
<path d="M332,2279 V2212.7 H347.2 V2279" fill="none" stroke="#f39427" stroke-width="2.2"/>
<path d="M362.2,2279 V2224 H377.4 V2279" fill="none" stroke="#9c1c52" stroke-width="2.2"/>
<path d="M442.4,2279 V2160.6 H457.6 V2279" fill="none" stroke="#f39427" stroke-width="2.2"/>
<path d="M473.2,2279 V2184.2 H488.4 V2279" fill="none" stroke="#9c1c52" stroke-width="2.2"/>
<path d="M553.4,2279 V2117.1 H568.6 V2279" fill="none" stroke="#f39427" stroke-width="2.2"/>
<path d="M584.2,2279 V2121.5 H599.4 V2279" fill="none" stroke="#9c1c52" stroke-width="2.2"/>
<path d="M664.5,2279 V2127.7 H679.7 V2279" fill="none" stroke="#f39427" stroke-width="2.2"/>
<path d="M694.9,2279 V2134.7 H710.1 V2279" fill="none" stroke="#9c1c52" stroke-width="2.2"/>
<line x1="339.6" y1="2202.5" x2="339.6" y2="2222.5" stroke="#f39427" stroke-width="1.5"/>
<line x1="334.4" y1="2202.5" x2="344.8" y2="2202.5" stroke="#f39427" stroke-width="1.5"/>
<line x1="334.4" y1="2222.5" x2="344.8" y2="2222.5" stroke="#f39427" stroke-width="1.5"/>
<line x1="369.8" y1="2216.5" x2="369.8" y2="2231.5" stroke="#9c1c52" stroke-width="1.5"/>
<line x1="364.6" y1="2216.5" x2="375" y2="2216.5" stroke="#9c1c52" stroke-width="1.5"/>
<line x1="364.6" y1="2231.5" x2="375" y2="2231.5" stroke="#9c1c52" stroke-width="1.5"/>
<line x1="450" y1="2147.9" x2="450" y2="2169.9" stroke="#f39427" stroke-width="1.5"/>
<line x1="444.8" y1="2147.9" x2="455.2" y2="2147.9" stroke="#f39427" stroke-width="1.5"/>
<line x1="444.8" y1="2169.9" x2="455.2" y2="2169.9" stroke="#f39427" stroke-width="1.5"/>
<line x1="480.8" y1="2161" x2="480.8" y2="2204.6" stroke="#9c1c52" stroke-width="1.5"/>
<line x1="475.6" y1="2161" x2="486" y2="2161" stroke="#9c1c52" stroke-width="1.5"/>
<line x1="475.6" y1="2204.6" x2="486" y2="2204.6" stroke="#9c1c52" stroke-width="1.5"/>
<line x1="561" y1="2070.3" x2="561" y2="2160.6" stroke="#f39427" stroke-width="1.5"/>
<line x1="555.8" y1="2070.3" x2="566.2" y2="2070.3" stroke="#f39427" stroke-width="1.5"/>
<line x1="555.8" y1="2160.6" x2="566.2" y2="2160.6" stroke="#f39427" stroke-width="1.5"/>
<line x1="591.8" y1="2088.1" x2="591.8" y2="2151.2" stroke="#9c1c52" stroke-width="1.5"/>
<line x1="586.6" y1="2088.1" x2="597" y2="2088.1" stroke="#9c1c52" stroke-width="1.5"/>
<line x1="586.6" y1="2151.2" x2="597" y2="2151.2" stroke="#9c1c52" stroke-width="1.5"/>
<line x1="672.1" y1="2083.5" x2="672.1" y2="2168.3" stroke="#f39427" stroke-width="1.5"/>
<line x1="666.9" y1="2083.5" x2="677.3" y2="2083.5" stroke="#f39427" stroke-width="1.5"/>
<line x1="666.9" y1="2168.3" x2="677.3" y2="2168.3" stroke="#f39427" stroke-width="1.5"/>
<line x1="702.5" y1="2049" x2="702.5" y2="2216" stroke="#9c1c52" stroke-width="1.5"/>
<line x1="697.3" y1="2049" x2="707.7" y2="2049" stroke="#9c1c52" stroke-width="1.5"/>
<line x1="697.3" y1="2216" x2="707.7" y2="2216" stroke="#9c1c52" stroke-width="1.5"/>
<circle cx="193.3" cy="2278.5" r="6.1" fill="#4d8ad0"/>
<circle cx="198.3" cy="2278.5" r="6.1" fill="#4d8ad0"/>
<circle cx="203.3" cy="2278.5" r="6.1" fill="#4d8ad0"/>
<circle cx="304.4" cy="2277" r="6.1" fill="#4d8ad0"/>
<circle cx="309.4" cy="2275" r="6.1" fill="#4d8ad0"/>
<circle cx="314.4" cy="2277.5" r="6.1" fill="#4d8ad0"/>
<circle cx="415" cy="2277" r="6.1" fill="#4d8ad0"/>
<circle cx="420" cy="2274.5" r="6.1" fill="#4d8ad0"/>
<circle cx="425" cy="2276" r="6.1" fill="#4d8ad0"/>
<circle cx="526" cy="2277.5" r="6.1" fill="#4d8ad0"/>
<circle cx="531" cy="2272.5" r="6.1" fill="#4d8ad0"/>
<circle cx="536" cy="2276" r="6.1" fill="#4d8ad0"/>
<circle cx="637" cy="2278.5" r="6.1" fill="#4d8ad0"/>
<circle cx="646" cy="2275.5" r="6.1" fill="#4d8ad0"/>
<circle cx="223.3" cy="2278.5" r="6.1" fill="#f39427"/>
<circle cx="228.3" cy="2278.5" r="6.1" fill="#f39427"/>
<circle cx="233.3" cy="2278.5" r="6.1" fill="#f39427"/>
<circle cx="253.6" cy="2278.5" r="6.1" fill="#9c1c52"/>
<circle cx="258.6" cy="2278.5" r="6.1" fill="#9c1c52"/>
<circle cx="263.6" cy="2278.5" r="6.1" fill="#9c1c52"/>
<circle cx="339.3" cy="2195.6" r="6.1" fill="#f39427"/>
<circle cx="339.3" cy="2212.9" r="6.1" fill="#f39427"/>
<circle cx="339.3" cy="2224.9" r="6.1" fill="#f39427"/>
<circle cx="450.6" cy="2140.3" r="6.1" fill="#f39427"/>
<circle cx="450.6" cy="2156.7" r="6.1" fill="#f39427"/>
<circle cx="450.6" cy="2178.7" r="6.1" fill="#f39427"/>
<circle cx="561.6" cy="2047.7" r="6.1" fill="#f39427"/>
<circle cx="561.6" cy="2097.7" r="6.1" fill="#f39427"/>
<circle cx="561.6" cy="2200.7" r="6.1" fill="#f39427"/>
<circle cx="672.2" cy="2050.2" r="6.1" fill="#f39427"/>
<circle cx="672.2" cy="2131.5" r="6.1" fill="#f39427"/>
<circle cx="672.2" cy="2196.2" r="6.1" fill="#f39427"/>
<circle cx="480.9" cy="2154" r="6.1" fill="#9c1c52"/>
<circle cx="480.9" cy="2167.7" r="6.1" fill="#9c1c52"/>
<circle cx="480.9" cy="2225.5" r="6.1" fill="#9c1c52"/>
<circle cx="591.7" cy="2073.1" r="6.1" fill="#9c1c52"/>
<circle cx="591.7" cy="2105.7" r="6.1" fill="#9c1c52"/>
<circle cx="591.7" cy="2181.3" r="6.1" fill="#9c1c52"/>
<circle cx="703" cy="2048.9" r="6.1" fill="#9c1c52"/>
<circle cx="703" cy="2216.7" r="6.1" fill="#9c1c52"/>
<circle cx="365.4" cy="2214.2" r="6.1" fill="#9c1c52"/>
<circle cx="374.6" cy="2214.2" r="6.1" fill="#9c1c52"/>
<circle cx="369.8" cy="2237.8" r="6.1" fill="#9c1c52"/>
<line x1="231" y1="1973.3" x2="672.6" y2="1973.3" stroke="#333" stroke-width="1.4"/>
<line x1="231" y1="1964.7" x2="231" y2="1981.9" stroke="#333" stroke-width="1.4"/>
<line x1="672.6" y1="1964.7" x2="672.6" y2="1981.9" stroke="#333" stroke-width="1.4"/>
<line x1="534.6" y1="2005.4" x2="563.8" y2="2005.4" stroke="#333" stroke-width="1.4"/>
<line x1="534.6" y1="1996.6" x2="534.6" y2="2014.2" stroke="#333" stroke-width="1.4"/>
<line x1="563.8" y1="1996.6" x2="563.8" y2="2014.2" stroke="#333" stroke-width="1.4"/>
<line x1="230.5" y1="2031.4" x2="563.1" y2="2031.4" stroke="#333" stroke-width="1.4"/>
<line x1="230.5" y1="2022.6" x2="230.5" y2="2040.2" stroke="#333" stroke-width="1.4"/>
<line x1="563.1" y1="2022.6" x2="563.1" y2="2040.2" stroke="#333" stroke-width="1.4"/>
<line x1="643" y1="2034" x2="672.2" y2="2034" stroke="#333" stroke-width="1.4"/>
<line x1="643" y1="2025.2" x2="643" y2="2042.8" stroke="#333" stroke-width="1.4"/>
<line x1="672.2" y1="2025.2" x2="672.2" y2="2042.8" stroke="#333" stroke-width="1.4"/>
<line x1="421.5" y1="2100.6" x2="450.6" y2="2100.6" stroke="#333" stroke-width="1.4"/>
<line x1="421.5" y1="2092.1" x2="421.5" y2="2109.1" stroke="#333" stroke-width="1.4"/>
<line x1="450.6" y1="2092.1" x2="450.6" y2="2109.1" stroke="#333" stroke-width="1.4"/>
<line x1="230.5" y1="2124" x2="450.6" y2="2124" stroke="#333" stroke-width="1.4"/>
<line x1="230.5" y1="2115.3" x2="230.5" y2="2132.7" stroke="#333" stroke-width="1.4"/>
<line x1="450.6" y1="2115.3" x2="450.6" y2="2132.7" stroke="#333" stroke-width="1.4"/>
<text x="422" y="1969.3" font-size="20.2" fill="#222" font-style="italic" textLength="83.1" lengthAdjust="spacingAndGlyphs" stroke="#222" stroke-width="0.3">P = 0.0009</text>
<text x="511.7" y="1996.6" font-size="20.2" fill="#222" font-style="italic" textLength="82.9" lengthAdjust="spacingAndGlyphs" stroke="#222" stroke-width="0.3">P = 0.0043</text>
<text x="621" y="2025.9" font-size="20.2" fill="#222" font-style="italic" textLength="83.5" lengthAdjust="spacingAndGlyphs" stroke="#222" stroke-width="0.3">P = 0.0265</text>
<text x="349" y="2025.9" font-size="20.2" fill="#222" font-style="italic" textLength="82.2" lengthAdjust="spacingAndGlyphs" stroke="#222" stroke-width="0.3">P = 0.0004</text>
<text x="397" y="2091.8" font-size="20.2" fill="#222" font-style="italic" textLength="81" lengthAdjust="spacingAndGlyphs" stroke="#222" stroke-width="0.3">P = 0.0041</text>
<text x="304.7" y="2119.5" font-size="20.2" fill="#222" font-style="italic" textLength="82.4" lengthAdjust="spacingAndGlyphs" stroke="#222" stroke-width="0.3">P = 0.0114</text>
<circle cx="768.6" cy="2076" r="6.2" fill="#4d8ad0"/>
<circle cx="768.6" cy="2134" r="6.2" fill="#f39427"/>
<circle cx="768.6" cy="2192" r="6.2" fill="#9c1c52"/>
<text x="801" y="2083.6" font-size="27.3" textLength="206.5" lengthAdjust="spacingAndGlyphs" stroke="#000" stroke-width="0.3">pcDNA3 GATA-3</text>
<text x="801" y="2142" font-size="27.3" textLength="194.5" lengthAdjust="spacingAndGlyphs">pcDNA3 ROR<tspan font-family="'Liberation Serif', serif">&#945;</tspan></text>
<text x="801" y="2200" font-size="27.3" textLength="218.5" lengthAdjust="spacingAndGlyphs">pcDNA3 ROR<tspan font-family="'Liberation Serif', serif">&#945;</tspan> +</text>
<text x="801" y="2234" font-size="27.3" textLength="206.5" lengthAdjust="spacingAndGlyphs" stroke="#000" stroke-width="0.3">pcDNA3 GATA-3</text>
</svg>
</body></html>
